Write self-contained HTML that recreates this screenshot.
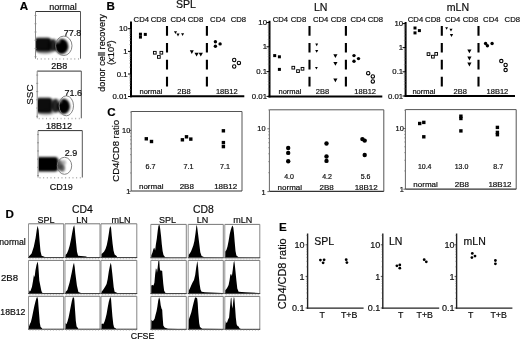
<!DOCTYPE html>
<html><head><meta charset="utf-8"><style>
html,body{margin:0;padding:0;background:#fff;}
body{width:520px;height:340px;overflow:hidden;}
svg{display:block;font-family:"Liberation Sans",sans-serif;will-change:transform;}
text{stroke:#000;stroke-width:0.18px;}
</style></head><body>
<svg width="520" height="340" viewBox="0 0 520 340">
<defs>
<filter id="b6" x="-50%" y="-50%" width="200%" height="200%"><feGaussianBlur stdDeviation="0.6"/></filter>
<filter id="b8" x="-50%" y="-50%" width="200%" height="200%"><feGaussianBlur stdDeviation="0.8"/></filter>
<filter id="b9" x="-50%" y="-50%" width="200%" height="200%"><feGaussianBlur stdDeviation="0.9"/></filter>
<filter id="b10" x="-50%" y="-50%" width="200%" height="200%"><feGaussianBlur stdDeviation="1"/></filter>
<filter id="b11" x="-50%" y="-50%" width="200%" height="200%"><feGaussianBlur stdDeviation="1.1"/></filter>
<filter id="b12" x="-50%" y="-50%" width="200%" height="200%"><feGaussianBlur stdDeviation="1.2"/></filter>
<filter id="b13" x="-50%" y="-50%" width="200%" height="200%"><feGaussianBlur stdDeviation="1.3"/></filter>
<filter id="b14" x="-50%" y="-50%" width="200%" height="200%"><feGaussianBlur stdDeviation="1.4"/></filter>
<filter id="b15" x="-50%" y="-50%" width="200%" height="200%"><feGaussianBlur stdDeviation="1.5"/></filter>
<filter id="b16" x="-50%" y="-50%" width="200%" height="200%"><feGaussianBlur stdDeviation="1.6"/></filter>
<filter id="b18" x="-50%" y="-50%" width="200%" height="200%"><feGaussianBlur stdDeviation="1.8"/></filter>
<filter id="b20" x="-50%" y="-50%" width="200%" height="200%"><feGaussianBlur stdDeviation="2"/></filter>
</defs>
<rect width="520" height="340" fill="#fff"/>
<text x="19.7" y="9.7" font-size="11.6" text-anchor="start" font-weight="bold" fill="#000">A</text>
<text x="106.6" y="9.8" font-size="11.6" text-anchor="start" font-weight="bold" fill="#000">B</text>
<text x="107.3" y="115.9" font-size="11.6" text-anchor="start" font-weight="bold" fill="#000">C</text>
<text x="5.6" y="218.2" font-size="11.6" text-anchor="start" font-weight="bold" fill="#000">D</text>
<text x="279" y="231.3" font-size="11.6" text-anchor="start" font-weight="bold" fill="#000">E</text>
<text x="63.1" y="9.7" font-size="9" text-anchor="middle" font-weight="normal" fill="#111">normal</text>
<clipPath id="ca1"><rect x="36" y="12" width="44" height="46.5"/></clipPath>
<clipPath id="ca2"><rect x="37.7" y="71.6" width="43.3" height="46.5"/></clipPath>
<clipPath id="ca3"><rect x="38.5" y="131" width="43.5" height="46.3"/></clipPath>
<g clip-path="url(#ca1)"><rect x="34.5" y="37.8" width="16.9" height="13.8" rx="3.5" fill="#000" opacity="0.95" filter="url(#b10)"/></g>
<g clip-path="url(#ca1)"><ellipse cx="45" cy="51.5" rx="8" ry="2.4" fill="#000" opacity="0.4" filter="url(#b12)"/></g>
<g clip-path="url(#ca1)"><ellipse cx="53.3" cy="45.3" rx="5" ry="6.2" fill="#000" opacity="0.85" filter="url(#b12)"/></g>
<g clip-path="url(#ca1)"><ellipse cx="61.6" cy="46.4" rx="6.8" ry="7.6" fill="#000" opacity="1" filter="url(#b9)"/></g>
<g clip-path="url(#ca1)"><ellipse cx="57.8" cy="40.2" rx="2.6" ry="3" fill="#fff" opacity="0.45" filter="url(#b11)"/></g>
<line x1="35.5" y1="11.5" x2="80.5" y2="11.5" stroke="#333" stroke-width="1"/>
<line x1="80.5" y1="11.5" x2="80.5" y2="58.7" stroke="#555" stroke-width="1"/>
<line x1="35.5" y1="11.5" x2="35.5" y2="58.7" stroke="#888" stroke-width="1"/>
<line x1="37.5" y1="58.2" x2="37.5" y2="59.7" stroke="#999" stroke-width="0.8"/>
<line x1="41.2273" y1="58.2" x2="41.2273" y2="59.7" stroke="#999" stroke-width="0.8"/>
<line x1="44.9545" y1="58.2" x2="44.9545" y2="59.7" stroke="#999" stroke-width="0.8"/>
<line x1="48.6818" y1="58.2" x2="48.6818" y2="59.7" stroke="#999" stroke-width="0.8"/>
<line x1="52.4091" y1="58.2" x2="52.4091" y2="59.7" stroke="#999" stroke-width="0.8"/>
<line x1="56.1364" y1="58.2" x2="56.1364" y2="59.7" stroke="#999" stroke-width="0.8"/>
<line x1="59.8636" y1="58.2" x2="59.8636" y2="59.7" stroke="#999" stroke-width="0.8"/>
<line x1="63.5909" y1="58.2" x2="63.5909" y2="59.7" stroke="#999" stroke-width="0.8"/>
<line x1="67.3182" y1="58.2" x2="67.3182" y2="59.7" stroke="#999" stroke-width="0.8"/>
<line x1="71.0455" y1="58.2" x2="71.0455" y2="59.7" stroke="#999" stroke-width="0.8"/>
<line x1="74.7727" y1="58.2" x2="74.7727" y2="59.7" stroke="#999" stroke-width="0.8"/>
<line x1="78.5" y1="58.2" x2="78.5" y2="59.7" stroke="#999" stroke-width="0.8"/>
<line x1="34.5" y1="15.5" x2="36.5" y2="15.5" stroke="#888" stroke-width="0.8"/>
<line x1="34.5" y1="23.74" x2="36.5" y2="23.74" stroke="#888" stroke-width="0.8"/>
<line x1="34.5" y1="31.98" x2="36.5" y2="31.98" stroke="#888" stroke-width="0.8"/>
<line x1="34.5" y1="40.22" x2="36.5" y2="40.22" stroke="#888" stroke-width="0.8"/>
<line x1="34.5" y1="48.46" x2="36.5" y2="48.46" stroke="#888" stroke-width="0.8"/>
<line x1="34.5" y1="56.7" x2="36.5" y2="56.7" stroke="#888" stroke-width="0.8"/>
<text x="81.2" y="36.3" font-size="9" text-anchor="end" font-weight="normal" fill="#111">77.8</text>
<ellipse cx="63.8" cy="45.8" rx="8.2" ry="9.7" fill="none" stroke="#777" stroke-width="0.9"/>
<text x="59.3" y="68.7" font-size="9" text-anchor="middle" font-weight="normal" fill="#111">2B8</text>
<g clip-path="url(#ca2)"><rect x="36" y="97.8" width="16.5" height="15.2" rx="3.5" fill="#000" opacity="0.95" filter="url(#b10)"/></g>
<g clip-path="url(#ca2)"><ellipse cx="46" cy="113" rx="8" ry="2.2" fill="#000" opacity="0.35" filter="url(#b12)"/></g>
<g clip-path="url(#ca2)"><ellipse cx="55.6" cy="105.8" rx="5" ry="7" fill="#000" opacity="0.85" filter="url(#b12)"/></g>
<g clip-path="url(#ca2)"><ellipse cx="63.6" cy="106.4" rx="6.4" ry="7.6" fill="#000" opacity="1" filter="url(#b9)"/></g>
<g clip-path="url(#ca2)"><ellipse cx="59.8" cy="100.5" rx="2.3" ry="2.8" fill="#fff" opacity="0.4" filter="url(#b11)"/></g>
<line x1="37.2" y1="71.1" x2="81.3" y2="71.1" stroke="#333" stroke-width="1"/>
<line x1="81.3" y1="71.1" x2="81.3" y2="118.3" stroke="#555" stroke-width="1"/>
<line x1="37.2" y1="71.1" x2="37.2" y2="118.3" stroke="#888" stroke-width="1"/>
<line x1="39.2" y1="117.8" x2="39.2" y2="119.3" stroke="#999" stroke-width="0.8"/>
<line x1="42.8455" y1="117.8" x2="42.8455" y2="119.3" stroke="#999" stroke-width="0.8"/>
<line x1="46.4909" y1="117.8" x2="46.4909" y2="119.3" stroke="#999" stroke-width="0.8"/>
<line x1="50.1364" y1="117.8" x2="50.1364" y2="119.3" stroke="#999" stroke-width="0.8"/>
<line x1="53.7818" y1="117.8" x2="53.7818" y2="119.3" stroke="#999" stroke-width="0.8"/>
<line x1="57.4273" y1="117.8" x2="57.4273" y2="119.3" stroke="#999" stroke-width="0.8"/>
<line x1="61.0727" y1="117.8" x2="61.0727" y2="119.3" stroke="#999" stroke-width="0.8"/>
<line x1="64.7182" y1="117.8" x2="64.7182" y2="119.3" stroke="#999" stroke-width="0.8"/>
<line x1="68.3636" y1="117.8" x2="68.3636" y2="119.3" stroke="#999" stroke-width="0.8"/>
<line x1="72.0091" y1="117.8" x2="72.0091" y2="119.3" stroke="#999" stroke-width="0.8"/>
<line x1="75.6545" y1="117.8" x2="75.6545" y2="119.3" stroke="#999" stroke-width="0.8"/>
<line x1="79.3" y1="117.8" x2="79.3" y2="119.3" stroke="#999" stroke-width="0.8"/>
<line x1="36.2" y1="75.1" x2="38.2" y2="75.1" stroke="#888" stroke-width="0.8"/>
<line x1="36.2" y1="83.34" x2="38.2" y2="83.34" stroke="#888" stroke-width="0.8"/>
<line x1="36.2" y1="91.58" x2="38.2" y2="91.58" stroke="#888" stroke-width="0.8"/>
<line x1="36.2" y1="99.82" x2="38.2" y2="99.82" stroke="#888" stroke-width="0.8"/>
<line x1="36.2" y1="108.06" x2="38.2" y2="108.06" stroke="#888" stroke-width="0.8"/>
<line x1="36.2" y1="116.3" x2="38.2" y2="116.3" stroke="#888" stroke-width="0.8"/>
<text x="82" y="96.1" font-size="9" text-anchor="end" font-weight="normal" fill="#111">71.6</text>
<ellipse cx="66.3" cy="105.8" rx="7.2" ry="10" fill="none" stroke="#777" stroke-width="0.9"/>
<text x="59.1" y="129.2" font-size="9" text-anchor="middle" font-weight="normal" fill="#111">18B12</text>
<g clip-path="url(#ca3)"><rect x="36" y="157" width="22" height="14.6" rx="3" fill="#000" opacity="1" filter="url(#b9)"/></g>
<g clip-path="url(#ca3)"><ellipse cx="59.5" cy="164.8" rx="2.5" ry="5.5" fill="#000" opacity="0.6" filter="url(#b12)"/></g>
<g clip-path="url(#ca3)"><ellipse cx="62.2" cy="168" rx="2.8" ry="3.8" fill="#000" opacity="0.6" filter="url(#b12)"/></g>
<g clip-path="url(#ca3)"><ellipse cx="63.5" cy="162.5" rx="2.5" ry="2.5" fill="#000" opacity="0.3" filter="url(#b12)"/></g>
<line x1="38" y1="130.6" x2="82.3" y2="130.6" stroke="#333" stroke-width="1"/>
<line x1="82.3" y1="130.6" x2="82.3" y2="177.5" stroke="#555" stroke-width="1"/>
<line x1="38" y1="130.6" x2="38" y2="177.5" stroke="#888" stroke-width="1"/>
<line x1="40" y1="177" x2="40" y2="178.5" stroke="#999" stroke-width="0.8"/>
<line x1="43.6636" y1="177" x2="43.6636" y2="178.5" stroke="#999" stroke-width="0.8"/>
<line x1="47.3273" y1="177" x2="47.3273" y2="178.5" stroke="#999" stroke-width="0.8"/>
<line x1="50.9909" y1="177" x2="50.9909" y2="178.5" stroke="#999" stroke-width="0.8"/>
<line x1="54.6545" y1="177" x2="54.6545" y2="178.5" stroke="#999" stroke-width="0.8"/>
<line x1="58.3182" y1="177" x2="58.3182" y2="178.5" stroke="#999" stroke-width="0.8"/>
<line x1="61.9818" y1="177" x2="61.9818" y2="178.5" stroke="#999" stroke-width="0.8"/>
<line x1="65.6455" y1="177" x2="65.6455" y2="178.5" stroke="#999" stroke-width="0.8"/>
<line x1="69.3091" y1="177" x2="69.3091" y2="178.5" stroke="#999" stroke-width="0.8"/>
<line x1="72.9727" y1="177" x2="72.9727" y2="178.5" stroke="#999" stroke-width="0.8"/>
<line x1="76.6364" y1="177" x2="76.6364" y2="178.5" stroke="#999" stroke-width="0.8"/>
<line x1="80.3" y1="177" x2="80.3" y2="178.5" stroke="#999" stroke-width="0.8"/>
<line x1="37" y1="134.6" x2="39" y2="134.6" stroke="#888" stroke-width="0.8"/>
<line x1="37" y1="142.78" x2="39" y2="142.78" stroke="#888" stroke-width="0.8"/>
<line x1="37" y1="150.96" x2="39" y2="150.96" stroke="#888" stroke-width="0.8"/>
<line x1="37" y1="159.14" x2="39" y2="159.14" stroke="#888" stroke-width="0.8"/>
<line x1="37" y1="167.32" x2="39" y2="167.32" stroke="#888" stroke-width="0.8"/>
<line x1="37" y1="175.5" x2="39" y2="175.5" stroke="#888" stroke-width="0.8"/>
<text x="77.3" y="156.2" font-size="9" text-anchor="end" font-weight="normal" fill="#111">2.9</text>
<ellipse cx="64.5" cy="165.8" rx="7.2" ry="8.5" fill="none" stroke="#777" stroke-width="0.9"/>
<text x="61.3" y="190.2" font-size="9" text-anchor="middle" font-weight="normal" fill="#111">CD19</text>
<text x="33.4" y="94.6" font-size="9.8" text-anchor="middle" font-weight="normal" fill="#111" transform="rotate(-90 33.4 94.6)">SSC</text>
<text x="104.8" y="53" font-size="9.2" text-anchor="middle" font-weight="normal" fill="#111" transform="rotate(-90 104.8 53)">donor cell recovery</text>
<text x="114.4" y="52.7" font-size="9.4" text-anchor="middle" fill="#111" transform="rotate(-90 114.4 52.7)">(x10<tspan font-size="5.8" dy="-3.4">6</tspan><tspan dy="3.4">)</tspan></text>
<text x="186" y="7.7" font-size="10.6" text-anchor="middle" font-weight="normal" fill="#111">SPL</text>
<line x1="131" y1="21.5" x2="131" y2="97.3" stroke="#000" stroke-width="2"/>
<line x1="130" y1="96.3" x2="244.3" y2="96.3" stroke="#000" stroke-width="2"/>
<line x1="128" y1="28.7" x2="131" y2="28.7" stroke="#000" stroke-width="1"/>
<text x="127.6" y="31.2" font-size="7.8" text-anchor="end" font-weight="normal" fill="#111">10</text>
<line x1="128" y1="51.4" x2="131" y2="51.4" stroke="#000" stroke-width="1"/>
<text x="127.6" y="53.9" font-size="7.8" text-anchor="end" font-weight="normal" fill="#111">1</text>
<line x1="128" y1="74" x2="131" y2="74" stroke="#000" stroke-width="1"/>
<text x="127.6" y="76.5" font-size="7.8" text-anchor="end" font-weight="normal" fill="#111">0.1</text>
<line x1="128" y1="96.5" x2="131" y2="96.5" stroke="#000" stroke-width="1"/>
<text x="127.6" y="99" font-size="7.8" text-anchor="end" font-weight="normal" fill="#111">0.01</text>
<line x1="129.2" y1="44.5666" x2="131" y2="44.5666" stroke="#777" stroke-width="0.5"/>
<line x1="129.2" y1="40.5693" x2="131" y2="40.5693" stroke="#777" stroke-width="0.5"/>
<line x1="129.2" y1="37.7332" x2="131" y2="37.7332" stroke="#777" stroke-width="0.5"/>
<line x1="129.2" y1="35.5334" x2="131" y2="35.5334" stroke="#777" stroke-width="0.5"/>
<line x1="129.2" y1="33.736" x2="131" y2="33.736" stroke="#777" stroke-width="0.5"/>
<line x1="129.2" y1="32.2163" x2="131" y2="32.2163" stroke="#777" stroke-width="0.5"/>
<line x1="129.2" y1="30.8999" x2="131" y2="30.8999" stroke="#777" stroke-width="0.5"/>
<line x1="129.2" y1="29.7387" x2="131" y2="29.7387" stroke="#777" stroke-width="0.5"/>
<line x1="129.2" y1="67.1967" x2="131" y2="67.1967" stroke="#777" stroke-width="0.5"/>
<line x1="129.2" y1="63.2171" x2="131" y2="63.2171" stroke="#777" stroke-width="0.5"/>
<line x1="129.2" y1="60.3934" x2="131" y2="60.3934" stroke="#777" stroke-width="0.5"/>
<line x1="129.2" y1="58.2033" x2="131" y2="58.2033" stroke="#777" stroke-width="0.5"/>
<line x1="129.2" y1="56.4138" x2="131" y2="56.4138" stroke="#777" stroke-width="0.5"/>
<line x1="129.2" y1="54.9008" x2="131" y2="54.9008" stroke="#777" stroke-width="0.5"/>
<line x1="129.2" y1="53.5902" x2="131" y2="53.5902" stroke="#777" stroke-width="0.5"/>
<line x1="129.2" y1="52.4341" x2="131" y2="52.4341" stroke="#777" stroke-width="0.5"/>
<line x1="129.2" y1="89.7268" x2="131" y2="89.7268" stroke="#777" stroke-width="0.5"/>
<line x1="129.2" y1="85.7648" x2="131" y2="85.7648" stroke="#777" stroke-width="0.5"/>
<line x1="129.2" y1="82.9537" x2="131" y2="82.9537" stroke="#777" stroke-width="0.5"/>
<line x1="129.2" y1="80.7732" x2="131" y2="80.7732" stroke="#777" stroke-width="0.5"/>
<line x1="129.2" y1="78.9916" x2="131" y2="78.9916" stroke="#777" stroke-width="0.5"/>
<line x1="129.2" y1="77.4853" x2="131" y2="77.4853" stroke="#777" stroke-width="0.5"/>
<line x1="129.2" y1="76.1805" x2="131" y2="76.1805" stroke="#777" stroke-width="0.5"/>
<line x1="129.2" y1="75.0295" x2="131" y2="75.0295" stroke="#777" stroke-width="0.5"/>
<text x="141.3" y="21.6" font-size="7.7" text-anchor="middle" font-weight="normal" fill="#111">CD4</text>
<text x="158.5" y="21.6" font-size="7.7" text-anchor="middle" font-weight="normal" fill="#111">CD8</text>
<text x="178.1" y="21.6" font-size="7.7" text-anchor="middle" font-weight="normal" fill="#111">CD4</text>
<text x="195.5" y="21.6" font-size="7.7" text-anchor="middle" font-weight="normal" fill="#111">CD8</text>
<text x="217.8" y="21.6" font-size="7.7" text-anchor="middle" font-weight="normal" fill="#111">CD4</text>
<text x="238.4" y="21.6" font-size="7.7" text-anchor="middle" font-weight="normal" fill="#111">CD8</text>
<line x1="167" y1="26" x2="167" y2="86.6" stroke="#000" stroke-width="2.1" stroke-dasharray="9.7 7.2"/>
<line x1="206.9" y1="26" x2="206.9" y2="86.6" stroke="#000" stroke-width="2.1" stroke-dasharray="9.7 7.2"/>
<text x="151" y="94" font-size="7.5" text-anchor="middle" font-weight="normal" fill="#111">normal</text>
<text x="184" y="94" font-size="7.5" text-anchor="middle" font-weight="normal" fill="#111">2B8</text>
<text x="226.8" y="94" font-size="7.5" text-anchor="middle" font-weight="normal" fill="#111">18B12</text>
<rect x="138.95" y="32.7" width="3" height="3" fill="#000" stroke="none" stroke-width="1"/>
<rect x="138.95" y="35.6" width="3" height="3" fill="#000" stroke="none" stroke-width="1"/>
<rect x="143.8" y="32.9" width="3" height="3" fill="#000" stroke="none" stroke-width="1"/>
<rect x="153.45" y="51.4" width="2.7" height="2.7" fill="none" stroke="#000" stroke-width="0.95"/>
<rect x="160" y="51.4" width="2.7" height="2.7" fill="none" stroke="#000" stroke-width="0.95"/>
<rect x="157.5" y="55.6" width="2.7" height="2.7" fill="none" stroke="#000" stroke-width="0.95"/>
<polygon points="173.96,31.214 177.04,31.214 175.5,33.986" fill="#000"/>
<polygon points="176.46,33.614 179.54,33.614 178,36.386" fill="#000"/>
<polygon points="181.06,33.214 184.14,33.214 182.6,35.986" fill="#000"/>
<polygon points="189.82,50.318 193.78,50.318 191.8,53.882" fill="#000"/>
<polygon points="194.51,52.819 198.69,52.819 196.6,56.581" fill="#000"/>
<polygon points="198.71,52.719 202.89,52.719 200.8,56.481" fill="#000"/>
<circle cx="215.4" cy="41.8" r="1.7" fill="#000" stroke="none" stroke-width="1"/>
<circle cx="215.4" cy="46.2" r="1.7" fill="#000" stroke="none" stroke-width="1"/>
<circle cx="220.1" cy="43.9" r="1.7" fill="#000" stroke="none" stroke-width="1"/>
<circle cx="234.2" cy="60" r="1.7" fill="none" stroke="#000" stroke-width="1.1"/>
<circle cx="238.9" cy="62.9" r="1.7" fill="none" stroke="#000" stroke-width="1.1"/>
<circle cx="234.2" cy="66.5" r="1.7" fill="none" stroke="#000" stroke-width="1.1"/>
<text x="320.7" y="10.6" font-size="10.6" text-anchor="middle" font-weight="normal" fill="#111">LN</text>
<line x1="269.5" y1="20.8" x2="269.5" y2="97.4" stroke="#000" stroke-width="2"/>
<line x1="268.5" y1="96.4" x2="382.3" y2="96.4" stroke="#000" stroke-width="2"/>
<line x1="266.5" y1="22.5" x2="269.5" y2="22.5" stroke="#000" stroke-width="1"/>
<text x="267" y="25" font-size="7.8" text-anchor="end" font-weight="normal" fill="#111">10</text>
<line x1="266.5" y1="46.8" x2="269.5" y2="46.8" stroke="#000" stroke-width="1"/>
<text x="267" y="49.3" font-size="7.8" text-anchor="end" font-weight="normal" fill="#111">1</text>
<line x1="266.5" y1="71.6" x2="269.5" y2="71.6" stroke="#000" stroke-width="1"/>
<text x="267" y="74.1" font-size="7.8" text-anchor="end" font-weight="normal" fill="#111">0.1</text>
<line x1="266.5" y1="96.4" x2="269.5" y2="96.4" stroke="#000" stroke-width="1"/>
<text x="267" y="98.9" font-size="7.8" text-anchor="end" font-weight="normal" fill="#111">0.01</text>
<line x1="267.7" y1="39.485" x2="269.5" y2="39.485" stroke="#777" stroke-width="0.5"/>
<line x1="267.7" y1="35.206" x2="269.5" y2="35.206" stroke="#777" stroke-width="0.5"/>
<line x1="267.7" y1="32.1699" x2="269.5" y2="32.1699" stroke="#777" stroke-width="0.5"/>
<line x1="267.7" y1="29.815" x2="269.5" y2="29.815" stroke="#777" stroke-width="0.5"/>
<line x1="267.7" y1="27.8909" x2="269.5" y2="27.8909" stroke="#777" stroke-width="0.5"/>
<line x1="267.7" y1="26.2641" x2="269.5" y2="26.2641" stroke="#777" stroke-width="0.5"/>
<line x1="267.7" y1="24.8549" x2="269.5" y2="24.8549" stroke="#777" stroke-width="0.5"/>
<line x1="267.7" y1="23.6119" x2="269.5" y2="23.6119" stroke="#777" stroke-width="0.5"/>
<line x1="267.7" y1="64.1345" x2="269.5" y2="64.1345" stroke="#777" stroke-width="0.5"/>
<line x1="267.7" y1="59.7674" x2="269.5" y2="59.7674" stroke="#777" stroke-width="0.5"/>
<line x1="267.7" y1="56.6689" x2="269.5" y2="56.6689" stroke="#777" stroke-width="0.5"/>
<line x1="267.7" y1="54.2655" x2="269.5" y2="54.2655" stroke="#777" stroke-width="0.5"/>
<line x1="267.7" y1="52.3018" x2="269.5" y2="52.3018" stroke="#777" stroke-width="0.5"/>
<line x1="267.7" y1="50.6416" x2="269.5" y2="50.6416" stroke="#777" stroke-width="0.5"/>
<line x1="267.7" y1="49.2034" x2="269.5" y2="49.2034" stroke="#777" stroke-width="0.5"/>
<line x1="267.7" y1="47.9348" x2="269.5" y2="47.9348" stroke="#777" stroke-width="0.5"/>
<line x1="267.7" y1="88.9345" x2="269.5" y2="88.9345" stroke="#777" stroke-width="0.5"/>
<line x1="267.7" y1="84.5674" x2="269.5" y2="84.5674" stroke="#777" stroke-width="0.5"/>
<line x1="267.7" y1="81.4689" x2="269.5" y2="81.4689" stroke="#777" stroke-width="0.5"/>
<line x1="267.7" y1="79.0655" x2="269.5" y2="79.0655" stroke="#777" stroke-width="0.5"/>
<line x1="267.7" y1="77.1018" x2="269.5" y2="77.1018" stroke="#777" stroke-width="0.5"/>
<line x1="267.7" y1="75.4416" x2="269.5" y2="75.4416" stroke="#777" stroke-width="0.5"/>
<line x1="267.7" y1="74.0034" x2="269.5" y2="74.0034" stroke="#777" stroke-width="0.5"/>
<line x1="267.7" y1="72.7348" x2="269.5" y2="72.7348" stroke="#777" stroke-width="0.5"/>
<text x="280.4" y="21.5" font-size="7.7" text-anchor="middle" font-weight="normal" fill="#111">CD4</text>
<text x="298.5" y="21.5" font-size="7.7" text-anchor="middle" font-weight="normal" fill="#111">CD8</text>
<text x="320.6" y="21.5" font-size="7.7" text-anchor="middle" font-weight="normal" fill="#111">CD4</text>
<text x="338.5" y="21.5" font-size="7.7" text-anchor="middle" font-weight="normal" fill="#111">CD8</text>
<text x="358.2" y="21.5" font-size="7.7" text-anchor="middle" font-weight="normal" fill="#111">CD4</text>
<text x="375.4" y="21.5" font-size="7.7" text-anchor="middle" font-weight="normal" fill="#111">CD8</text>
<line x1="309.5" y1="26" x2="309.5" y2="86.6" stroke="#000" stroke-width="2.1" stroke-dasharray="9.7 7.2"/>
<line x1="345.9" y1="26" x2="345.9" y2="86.6" stroke="#000" stroke-width="2.1" stroke-dasharray="9.7 7.2"/>
<text x="290" y="93.9" font-size="7.5" text-anchor="middle" font-weight="normal" fill="#111">normal</text>
<text x="322.4" y="93.9" font-size="7.5" text-anchor="middle" font-weight="normal" fill="#111">2B8</text>
<text x="365.2" y="93.9" font-size="7.5" text-anchor="middle" font-weight="normal" fill="#111">18B12</text>
<rect x="273.2" y="54.1" width="3" height="3" fill="#000" stroke="none" stroke-width="1"/>
<rect x="277.9" y="55.3" width="3" height="3" fill="#000" stroke="none" stroke-width="1"/>
<rect x="277.9" y="67.9" width="3" height="3" fill="#000" stroke="none" stroke-width="1"/>
<rect x="291.95" y="66.35" width="2.7" height="2.7" fill="none" stroke="#000" stroke-width="0.95"/>
<rect x="296.65" y="69.75" width="2.7" height="2.7" fill="none" stroke="#000" stroke-width="0.95"/>
<rect x="301.15" y="67.45" width="2.7" height="2.7" fill="none" stroke="#000" stroke-width="0.95"/>
<polygon points="315.27,43.613 318.13,43.613 316.7,46.187" fill="#000"/>
<polygon points="315.16,49.914 318.24,49.914 316.7,52.686" fill="#000"/>
<polygon points="314.97,66.913 317.83,66.913 316.4,69.487" fill="#000"/>
<polygon points="333.31,54.219 337.49,54.219 335.4,57.981" fill="#000"/>
<polygon points="333.31,61.919 337.49,61.919 335.4,65.681" fill="#000"/>
<polygon points="333.31,78.519 337.49,78.519 335.4,82.281" fill="#000"/>
<circle cx="354" cy="55.6" r="1.7" fill="#000" stroke="none" stroke-width="1"/>
<circle cx="358.5" cy="58.6" r="1.7" fill="#000" stroke="none" stroke-width="1"/>
<circle cx="354" cy="61.3" r="1.7" fill="#000" stroke="none" stroke-width="1"/>
<circle cx="368.2" cy="73.2" r="1.7" fill="none" stroke="#000" stroke-width="1.1"/>
<circle cx="372.8" cy="76.4" r="1.7" fill="none" stroke="#000" stroke-width="1.1"/>
<circle cx="372.8" cy="81.4" r="1.7" fill="none" stroke="#000" stroke-width="1.1"/>
<text x="457.9" y="10.9" font-size="10.6" text-anchor="middle" font-weight="normal" fill="#111">mLN</text>
<line x1="405.6" y1="22" x2="405.6" y2="97" stroke="#000" stroke-width="2"/>
<line x1="404.6" y1="96" x2="515" y2="96" stroke="#000" stroke-width="2"/>
<line x1="402.6" y1="23.6" x2="405.6" y2="23.6" stroke="#000" stroke-width="1"/>
<text x="403.2" y="26.1" font-size="7.8" text-anchor="end" font-weight="normal" fill="#111">10</text>
<line x1="402.6" y1="47.6" x2="405.6" y2="47.6" stroke="#000" stroke-width="1"/>
<text x="403.2" y="50.1" font-size="7.8" text-anchor="end" font-weight="normal" fill="#111">1</text>
<line x1="402.6" y1="71.8" x2="405.6" y2="71.8" stroke="#000" stroke-width="1"/>
<text x="403.2" y="74.3" font-size="7.8" text-anchor="end" font-weight="normal" fill="#111">0.1</text>
<line x1="402.6" y1="96" x2="405.6" y2="96" stroke="#000" stroke-width="1"/>
<text x="403.2" y="98.5" font-size="7.8" text-anchor="end" font-weight="normal" fill="#111">0.01</text>
<line x1="403.8" y1="40.3753" x2="405.6" y2="40.3753" stroke="#777" stroke-width="0.5"/>
<line x1="403.8" y1="36.1491" x2="405.6" y2="36.1491" stroke="#777" stroke-width="0.5"/>
<line x1="403.8" y1="33.1506" x2="405.6" y2="33.1506" stroke="#777" stroke-width="0.5"/>
<line x1="403.8" y1="30.8247" x2="405.6" y2="30.8247" stroke="#777" stroke-width="0.5"/>
<line x1="403.8" y1="28.9244" x2="405.6" y2="28.9244" stroke="#777" stroke-width="0.5"/>
<line x1="403.8" y1="27.3176" x2="405.6" y2="27.3176" stroke="#777" stroke-width="0.5"/>
<line x1="403.8" y1="25.9258" x2="405.6" y2="25.9258" stroke="#777" stroke-width="0.5"/>
<line x1="403.8" y1="24.6982" x2="405.6" y2="24.6982" stroke="#777" stroke-width="0.5"/>
<line x1="403.8" y1="64.5151" x2="405.6" y2="64.5151" stroke="#777" stroke-width="0.5"/>
<line x1="403.8" y1="60.2537" x2="405.6" y2="60.2537" stroke="#777" stroke-width="0.5"/>
<line x1="403.8" y1="57.2301" x2="405.6" y2="57.2301" stroke="#777" stroke-width="0.5"/>
<line x1="403.8" y1="54.8849" x2="405.6" y2="54.8849" stroke="#777" stroke-width="0.5"/>
<line x1="403.8" y1="52.9687" x2="405.6" y2="52.9687" stroke="#777" stroke-width="0.5"/>
<line x1="403.8" y1="51.3486" x2="405.6" y2="51.3486" stroke="#777" stroke-width="0.5"/>
<line x1="403.8" y1="49.9452" x2="405.6" y2="49.9452" stroke="#777" stroke-width="0.5"/>
<line x1="403.8" y1="48.7073" x2="405.6" y2="48.7073" stroke="#777" stroke-width="0.5"/>
<line x1="403.8" y1="88.7151" x2="405.6" y2="88.7151" stroke="#777" stroke-width="0.5"/>
<line x1="403.8" y1="84.4537" x2="405.6" y2="84.4537" stroke="#777" stroke-width="0.5"/>
<line x1="403.8" y1="81.4301" x2="405.6" y2="81.4301" stroke="#777" stroke-width="0.5"/>
<line x1="403.8" y1="79.0849" x2="405.6" y2="79.0849" stroke="#777" stroke-width="0.5"/>
<line x1="403.8" y1="77.1687" x2="405.6" y2="77.1687" stroke="#777" stroke-width="0.5"/>
<line x1="403.8" y1="75.5486" x2="405.6" y2="75.5486" stroke="#777" stroke-width="0.5"/>
<line x1="403.8" y1="74.1452" x2="405.6" y2="74.1452" stroke="#777" stroke-width="0.5"/>
<line x1="403.8" y1="72.9073" x2="405.6" y2="72.9073" stroke="#777" stroke-width="0.5"/>
<text x="415.5" y="21.5" font-size="7.7" text-anchor="middle" font-weight="normal" fill="#111">CD4</text>
<text x="432.8" y="21.5" font-size="7.7" text-anchor="middle" font-weight="normal" fill="#111">CD8</text>
<text x="452.7" y="21.5" font-size="7.7" text-anchor="middle" font-weight="normal" fill="#111">CD4</text>
<text x="470.5" y="21.5" font-size="7.7" text-anchor="middle" font-weight="normal" fill="#111">CD8</text>
<text x="490.8" y="21.5" font-size="7.7" text-anchor="middle" font-weight="normal" fill="#111">CD4</text>
<text x="512.3" y="21.5" font-size="7.7" text-anchor="middle" font-weight="normal" fill="#111">CD8</text>
<line x1="441.8" y1="26" x2="441.8" y2="86.6" stroke="#000" stroke-width="2.1" stroke-dasharray="9.7 7.2"/>
<line x1="478.5" y1="26" x2="478.5" y2="86.6" stroke="#000" stroke-width="2.1" stroke-dasharray="9.7 7.2"/>
<text x="423.9" y="93.6" font-size="7.5" text-anchor="middle" font-weight="normal" fill="#111">normal</text>
<text x="460.3" y="93.6" font-size="7.5" text-anchor="middle" font-weight="normal" fill="#111">2B8</text>
<text x="497.4" y="93.6" font-size="7.5" text-anchor="middle" font-weight="normal" fill="#111">18B12</text>
<rect x="413.5" y="26.5" width="3" height="3" fill="#000" stroke="none" stroke-width="1"/>
<rect x="417.9" y="29.1" width="3" height="3" fill="#000" stroke="none" stroke-width="1"/>
<rect x="413.5" y="31.4" width="3" height="3" fill="#000" stroke="none" stroke-width="1"/>
<rect x="427.15" y="52.75" width="2.7" height="2.7" fill="none" stroke="#000" stroke-width="0.95"/>
<rect x="431.55" y="55.35" width="2.7" height="2.7" fill="none" stroke="#000" stroke-width="0.95"/>
<rect x="434.85" y="52.55" width="2.7" height="2.7" fill="none" stroke="#000" stroke-width="0.95"/>
<polygon points="445.17,27.213 448.03,27.213 446.6,29.787" fill="#000"/>
<polygon points="449.46,28.814 452.54,28.814 451,31.586" fill="#000"/>
<polygon points="449.85,33.915 453.15,33.915 451.5,36.885" fill="#000"/>
<polygon points="467.31,49.419 471.49,49.419 469.4,53.181" fill="#000"/>
<polygon points="467.31,56.619 471.49,56.619 469.4,60.381" fill="#000"/>
<polygon points="467.31,62.619 471.49,62.619 469.4,66.381" fill="#000"/>
<circle cx="485.6" cy="43.5" r="1.7" fill="#000" stroke="none" stroke-width="1"/>
<circle cx="487.4" cy="45.8" r="1.7" fill="#000" stroke="none" stroke-width="1"/>
<circle cx="492.1" cy="43.5" r="1.7" fill="#000" stroke="none" stroke-width="1"/>
<circle cx="501.3" cy="61.1" r="1.7" fill="none" stroke="#000" stroke-width="1.1"/>
<circle cx="505.6" cy="65" r="1.7" fill="none" stroke="#000" stroke-width="1.1"/>
<circle cx="505.6" cy="70.1" r="1.7" fill="none" stroke="#000" stroke-width="1.1"/>
<text x="118.9" y="150.8" font-size="9.5" text-anchor="middle" font-weight="normal" fill="#111" transform="rotate(-90 118.9 150.8)">CD4/CD8 ratio</text>
<line x1="131.2" y1="111.5" x2="242" y2="111.5" stroke="#555" stroke-width="1"/>
<line x1="242" y1="111.5" x2="242" y2="191" stroke="#555" stroke-width="1"/>
<line x1="131.2" y1="111.5" x2="131.2" y2="191" stroke="#666" stroke-width="1"/>
<line x1="131.2" y1="191" x2="242" y2="191" stroke="#333" stroke-width="1.2"/>
<line x1="129.2" y1="130.4" x2="131.2" y2="130.4" stroke="#444" stroke-width="0.8"/>
<line x1="129.2" y1="191.3" x2="131.2" y2="191.3" stroke="#444" stroke-width="0.8"/>
<line x1="130" y1="172.967" x2="131.2" y2="172.967" stroke="#666" stroke-width="0.6"/>
<line x1="130" y1="162.243" x2="131.2" y2="162.243" stroke="#666" stroke-width="0.6"/>
<line x1="130" y1="154.635" x2="131.2" y2="154.635" stroke="#666" stroke-width="0.6"/>
<line x1="130" y1="148.733" x2="131.2" y2="148.733" stroke="#666" stroke-width="0.6"/>
<line x1="130" y1="143.911" x2="131.2" y2="143.911" stroke="#666" stroke-width="0.6"/>
<line x1="130" y1="139.834" x2="131.2" y2="139.834" stroke="#666" stroke-width="0.6"/>
<line x1="130" y1="136.302" x2="131.2" y2="136.302" stroke="#666" stroke-width="0.6"/>
<line x1="130" y1="133.187" x2="131.2" y2="133.187" stroke="#666" stroke-width="0.6"/>
<line x1="130" y1="112.067" x2="131.2" y2="112.067" stroke="#666" stroke-width="0.6"/>
<text x="130.3" y="133" font-size="7.4" text-anchor="end" font-weight="normal" fill="#111">10</text>
<text x="130.3" y="194.3" font-size="7.4" text-anchor="end" font-weight="normal" fill="#111">1</text>
<text x="151.2" y="188.8" font-size="8" text-anchor="middle" font-weight="normal" fill="#111">normal</text>
<text x="186.8" y="188.8" font-size="8" text-anchor="middle" font-weight="normal" fill="#111">2B8</text>
<text x="225.7" y="188.8" font-size="8" text-anchor="middle" font-weight="normal" fill="#111">18B12</text>
<text x="150.4" y="168.8" font-size="7.2" text-anchor="middle" font-weight="normal" fill="#111">6.7</text>
<text x="188.6" y="168.8" font-size="7.2" text-anchor="middle" font-weight="normal" fill="#111">7.1</text>
<text x="225.1" y="168.8" font-size="7.2" text-anchor="middle" font-weight="normal" fill="#111">7.1</text>
<rect x="144.6" y="137.1" width="3.4" height="3.4" fill="#000" stroke="none" stroke-width="1"/>
<rect x="149.8" y="139.8" width="3.4" height="3.4" fill="#000" stroke="none" stroke-width="1"/>
<rect x="180.7" y="138.1" width="3.4" height="3.4" fill="#000" stroke="none" stroke-width="1"/>
<rect x="184.8" y="135.1" width="3.4" height="3.4" fill="#000" stroke="none" stroke-width="1"/>
<rect x="189.1" y="137.4" width="3.4" height="3.4" fill="#000" stroke="none" stroke-width="1"/>
<rect x="221.7" y="129.1" width="3.4" height="3.4" fill="#000" stroke="none" stroke-width="1"/>
<rect x="221.7" y="140.9" width="3.4" height="3.4" fill="#000" stroke="none" stroke-width="1"/>
<rect x="221.7" y="144.9" width="3.4" height="3.4" fill="#000" stroke="none" stroke-width="1"/>
<line x1="269.4" y1="109.8" x2="383.8" y2="109.8" stroke="#555" stroke-width="1"/>
<line x1="383.8" y1="109.8" x2="383.8" y2="191.4" stroke="#555" stroke-width="1"/>
<line x1="269.4" y1="109.8" x2="269.4" y2="191.4" stroke="#666" stroke-width="1"/>
<line x1="269.4" y1="191.4" x2="383.8" y2="191.4" stroke="#333" stroke-width="1.2"/>
<line x1="267.4" y1="128.8" x2="269.4" y2="128.8" stroke="#444" stroke-width="0.8"/>
<line x1="267.4" y1="191.6" x2="269.4" y2="191.6" stroke="#444" stroke-width="0.8"/>
<line x1="268.2" y1="172.695" x2="269.4" y2="172.695" stroke="#666" stroke-width="0.6"/>
<line x1="268.2" y1="161.637" x2="269.4" y2="161.637" stroke="#666" stroke-width="0.6"/>
<line x1="268.2" y1="153.791" x2="269.4" y2="153.791" stroke="#666" stroke-width="0.6"/>
<line x1="268.2" y1="147.705" x2="269.4" y2="147.705" stroke="#666" stroke-width="0.6"/>
<line x1="268.2" y1="142.732" x2="269.4" y2="142.732" stroke="#666" stroke-width="0.6"/>
<line x1="268.2" y1="138.528" x2="269.4" y2="138.528" stroke="#666" stroke-width="0.6"/>
<line x1="268.2" y1="134.886" x2="269.4" y2="134.886" stroke="#666" stroke-width="0.6"/>
<line x1="268.2" y1="131.674" x2="269.4" y2="131.674" stroke="#666" stroke-width="0.6"/>
<line x1="268.2" y1="109.895" x2="269.4" y2="109.895" stroke="#666" stroke-width="0.6"/>
<text x="265.6" y="131.4" font-size="7.4" text-anchor="end" font-weight="normal" fill="#111">10</text>
<text x="265.6" y="194.6" font-size="7.4" text-anchor="end" font-weight="normal" fill="#111">1</text>
<text x="289.8" y="189.8" font-size="8" text-anchor="middle" font-weight="normal" fill="#111">normal</text>
<text x="326.6" y="189.8" font-size="8" text-anchor="middle" font-weight="normal" fill="#111">2B8</text>
<text x="366.2" y="189.8" font-size="8" text-anchor="middle" font-weight="normal" fill="#111">18B12</text>
<text x="289" y="178.8" font-size="7" text-anchor="middle" font-weight="normal" fill="#111">4.0</text>
<text x="327" y="178.8" font-size="7" text-anchor="middle" font-weight="normal" fill="#111">4.2</text>
<text x="365.5" y="178.8" font-size="7" text-anchor="middle" font-weight="normal" fill="#111">5.6</text>
<circle cx="288.2" cy="148" r="2.2" fill="#000" stroke="none" stroke-width="1"/>
<circle cx="288.2" cy="152.9" r="2.2" fill="#000" stroke="none" stroke-width="1"/>
<circle cx="288.2" cy="161.2" r="2.2" fill="#000" stroke="none" stroke-width="1"/>
<circle cx="326.5" cy="143.5" r="2.2" fill="#000" stroke="none" stroke-width="1"/>
<circle cx="326.5" cy="156.5" r="2.2" fill="#000" stroke="none" stroke-width="1"/>
<circle cx="326.5" cy="160.9" r="2.2" fill="#000" stroke="none" stroke-width="1"/>
<circle cx="362.4" cy="139.1" r="2.2" fill="#000" stroke="none" stroke-width="1"/>
<circle cx="364.7" cy="140.6" r="2.2" fill="#000" stroke="none" stroke-width="1"/>
<circle cx="364.7" cy="155" r="2.2" fill="#000" stroke="none" stroke-width="1"/>
<line x1="405.4" y1="109.6" x2="516.2" y2="109.6" stroke="#555" stroke-width="1"/>
<line x1="516.2" y1="109.6" x2="516.2" y2="189.2" stroke="#555" stroke-width="1"/>
<line x1="405.4" y1="109.6" x2="405.4" y2="189.2" stroke="#666" stroke-width="1"/>
<line x1="405.4" y1="189.2" x2="516.2" y2="189.2" stroke="#333" stroke-width="1.2"/>
<line x1="403.4" y1="128.5" x2="405.4" y2="128.5" stroke="#444" stroke-width="0.8"/>
<line x1="403.4" y1="189.2" x2="405.4" y2="189.2" stroke="#444" stroke-width="0.8"/>
<line x1="404.2" y1="170.927" x2="405.4" y2="170.927" stroke="#666" stroke-width="0.6"/>
<line x1="404.2" y1="160.239" x2="405.4" y2="160.239" stroke="#666" stroke-width="0.6"/>
<line x1="404.2" y1="152.655" x2="405.4" y2="152.655" stroke="#666" stroke-width="0.6"/>
<line x1="404.2" y1="146.773" x2="405.4" y2="146.773" stroke="#666" stroke-width="0.6"/>
<line x1="404.2" y1="141.966" x2="405.4" y2="141.966" stroke="#666" stroke-width="0.6"/>
<line x1="404.2" y1="137.903" x2="405.4" y2="137.903" stroke="#666" stroke-width="0.6"/>
<line x1="404.2" y1="134.382" x2="405.4" y2="134.382" stroke="#666" stroke-width="0.6"/>
<line x1="404.2" y1="131.277" x2="405.4" y2="131.277" stroke="#666" stroke-width="0.6"/>
<line x1="404.2" y1="110.227" x2="405.4" y2="110.227" stroke="#666" stroke-width="0.6"/>
<text x="403.8" y="131.1" font-size="7.4" text-anchor="end" font-weight="normal" fill="#111">10</text>
<text x="403.8" y="192.2" font-size="7.4" text-anchor="end" font-weight="normal" fill="#111">1</text>
<text x="425.6" y="187.1" font-size="8" text-anchor="middle" font-weight="normal" fill="#111">normal</text>
<text x="461.9" y="187.1" font-size="8" text-anchor="middle" font-weight="normal" fill="#111">2B8</text>
<text x="500" y="187.1" font-size="8" text-anchor="middle" font-weight="normal" fill="#111">18B12</text>
<text x="424.7" y="168.8" font-size="7" text-anchor="middle" font-weight="normal" fill="#111">10.4</text>
<text x="461.5" y="168.8" font-size="7" text-anchor="middle" font-weight="normal" fill="#111">13.0</text>
<text x="498.2" y="168.8" font-size="7" text-anchor="middle" font-weight="normal" fill="#111">8.7</text>
<rect x="418" y="121.8" width="3.4" height="3.4" fill="#000" stroke="none" stroke-width="1"/>
<rect x="422.1" y="120.7" width="3.4" height="3.4" fill="#000" stroke="none" stroke-width="1"/>
<rect x="422.1" y="135.1" width="3.4" height="3.4" fill="#000" stroke="none" stroke-width="1"/>
<rect x="459.2" y="114.5" width="3.4" height="3.4" fill="#000" stroke="none" stroke-width="1"/>
<rect x="459.2" y="116.8" width="3.4" height="3.4" fill="#000" stroke="none" stroke-width="1"/>
<rect x="459.2" y="129.2" width="3.4" height="3.4" fill="#000" stroke="none" stroke-width="1"/>
<rect x="495.7" y="125.7" width="3.4" height="3.4" fill="#000" stroke="none" stroke-width="1"/>
<rect x="495.7" y="130.7" width="3.4" height="3.4" fill="#000" stroke="none" stroke-width="1"/>
<rect x="495.7" y="133" width="3.4" height="3.4" fill="#000" stroke="none" stroke-width="1"/>
<text x="82.4" y="212.7" font-size="10.4" text-anchor="middle" font-weight="normal" fill="#111">CD4</text>
<text x="203.5" y="212.5" font-size="10.4" text-anchor="middle" font-weight="normal" fill="#111">CD8</text>
<text x="46.1" y="223" font-size="9" text-anchor="middle" font-weight="normal" fill="#111">SPL</text>
<text x="82" y="223" font-size="9" text-anchor="middle" font-weight="normal" fill="#111">LN</text>
<text x="121" y="223" font-size="9" text-anchor="middle" font-weight="normal" fill="#111">mLN</text>
<text x="167.5" y="223" font-size="9" text-anchor="middle" font-weight="normal" fill="#111">SPL</text>
<text x="202.6" y="223" font-size="9" text-anchor="middle" font-weight="normal" fill="#111">LN</text>
<text x="242.8" y="223" font-size="9" text-anchor="middle" font-weight="normal" fill="#111">mLN</text>
<text x="25.8" y="244.6" font-size="8.7" text-anchor="end" font-weight="normal" fill="#111">normal</text>
<text x="1" y="281.2" font-size="9.6" text-anchor="start" font-weight="normal" fill="#111">2B8</text>
<text x="0.3" y="314.9" font-size="8.7" text-anchor="start" font-weight="normal" fill="#111">18B12</text>
<text x="142.6" y="338.8" font-size="8.8" text-anchor="middle" font-weight="normal" fill="#111">CFSE</text>
<path d="M28.8,257.3 L28.8,256.6 L31.6,253.5 L33.8,246.8 L35.6,238 L36.7,230.3 L37.6,225.8 L38.7,230.3 L39.6,241.3 L40.5,251.3 L41.6,255.7 L44.5,256.7 L44.5,257.3 Z" fill="#000"/>
<line x1="28.5" y1="223.8" x2="63.7" y2="223.8" stroke="#666" stroke-width="0.9"/>
<line x1="28.5" y1="223.8" x2="28.5" y2="257.6" stroke="#888" stroke-width="0.9"/>
<line x1="63.7" y1="223.8" x2="63.7" y2="257.6" stroke="#777" stroke-width="0.9"/>
<line x1="28.1" y1="257.6" x2="64.1" y2="257.6" stroke="#333" stroke-width="1"/>
<line x1="30" y1="258.1" x2="30" y2="259.2" stroke="#aaa" stroke-width="0.7"/>
<line x1="32.9273" y1="258.1" x2="32.9273" y2="259.2" stroke="#aaa" stroke-width="0.7"/>
<line x1="35.8545" y1="258.1" x2="35.8545" y2="259.2" stroke="#aaa" stroke-width="0.7"/>
<line x1="38.7818" y1="258.1" x2="38.7818" y2="259.2" stroke="#aaa" stroke-width="0.7"/>
<line x1="41.7091" y1="258.1" x2="41.7091" y2="259.2" stroke="#aaa" stroke-width="0.7"/>
<line x1="44.6364" y1="258.1" x2="44.6364" y2="259.2" stroke="#aaa" stroke-width="0.7"/>
<line x1="47.5636" y1="258.1" x2="47.5636" y2="259.2" stroke="#aaa" stroke-width="0.7"/>
<line x1="50.4909" y1="258.1" x2="50.4909" y2="259.2" stroke="#aaa" stroke-width="0.7"/>
<line x1="53.4182" y1="258.1" x2="53.4182" y2="259.2" stroke="#aaa" stroke-width="0.7"/>
<line x1="56.3455" y1="258.1" x2="56.3455" y2="259.2" stroke="#aaa" stroke-width="0.7"/>
<line x1="59.2727" y1="258.1" x2="59.2727" y2="259.2" stroke="#aaa" stroke-width="0.7"/>
<line x1="62.2" y1="258.1" x2="62.2" y2="259.2" stroke="#aaa" stroke-width="0.7"/>
<path d="M65.3,257.3 L65.5,255.1 L66.9,253.4 L68.4,250.1 L69.7,245.6 L71,239.5 L72.2,232.8 L73.3,227.2 L74.2,225.2 L74.7,228.3 L75.3,235 L76.2,243.9 L77,251.8 L78.1,255.7 L86.5,256.4 L86.5,257.3 Z" fill="#000"/>
<line x1="65" y1="223.8" x2="100" y2="223.8" stroke="#666" stroke-width="0.9"/>
<line x1="65" y1="223.8" x2="65" y2="257.6" stroke="#888" stroke-width="0.9"/>
<line x1="100" y1="223.8" x2="100" y2="257.6" stroke="#777" stroke-width="0.9"/>
<line x1="64.6" y1="257.6" x2="100.4" y2="257.6" stroke="#333" stroke-width="1"/>
<line x1="66.5" y1="258.1" x2="66.5" y2="259.2" stroke="#aaa" stroke-width="0.7"/>
<line x1="69.4091" y1="258.1" x2="69.4091" y2="259.2" stroke="#aaa" stroke-width="0.7"/>
<line x1="72.3182" y1="258.1" x2="72.3182" y2="259.2" stroke="#aaa" stroke-width="0.7"/>
<line x1="75.2273" y1="258.1" x2="75.2273" y2="259.2" stroke="#aaa" stroke-width="0.7"/>
<line x1="78.1364" y1="258.1" x2="78.1364" y2="259.2" stroke="#aaa" stroke-width="0.7"/>
<line x1="81.0455" y1="258.1" x2="81.0455" y2="259.2" stroke="#aaa" stroke-width="0.7"/>
<line x1="83.9545" y1="258.1" x2="83.9545" y2="259.2" stroke="#aaa" stroke-width="0.7"/>
<line x1="86.8636" y1="258.1" x2="86.8636" y2="259.2" stroke="#aaa" stroke-width="0.7"/>
<line x1="89.7727" y1="258.1" x2="89.7727" y2="259.2" stroke="#aaa" stroke-width="0.7"/>
<line x1="92.6818" y1="258.1" x2="92.6818" y2="259.2" stroke="#aaa" stroke-width="0.7"/>
<line x1="95.5909" y1="258.1" x2="95.5909" y2="259.2" stroke="#aaa" stroke-width="0.7"/>
<line x1="98.5" y1="258.1" x2="98.5" y2="259.2" stroke="#aaa" stroke-width="0.7"/>
<path d="M101.3,257.3 L101.4,254 L102.4,253.3 L104,251.7 L105.5,248.9 L106.8,245 L107.9,239.4 L108.8,233.8 L109.6,228.2 L110.4,226 L111.1,228.2 L111.8,236 L112.6,243.8 L113.5,250.5 L114.6,254.5 L116.9,256.3 L116.9,257.3 Z" fill="#000"/>
<line x1="101" y1="223.8" x2="136.8" y2="223.8" stroke="#666" stroke-width="0.9"/>
<line x1="101" y1="223.8" x2="101" y2="257.6" stroke="#888" stroke-width="0.9"/>
<line x1="136.8" y1="223.8" x2="136.8" y2="257.6" stroke="#777" stroke-width="0.9"/>
<line x1="100.6" y1="257.6" x2="137.2" y2="257.6" stroke="#333" stroke-width="1"/>
<line x1="102.5" y1="258.1" x2="102.5" y2="259.2" stroke="#aaa" stroke-width="0.7"/>
<line x1="105.482" y1="258.1" x2="105.482" y2="259.2" stroke="#aaa" stroke-width="0.7"/>
<line x1="108.464" y1="258.1" x2="108.464" y2="259.2" stroke="#aaa" stroke-width="0.7"/>
<line x1="111.445" y1="258.1" x2="111.445" y2="259.2" stroke="#aaa" stroke-width="0.7"/>
<line x1="114.427" y1="258.1" x2="114.427" y2="259.2" stroke="#aaa" stroke-width="0.7"/>
<line x1="117.409" y1="258.1" x2="117.409" y2="259.2" stroke="#aaa" stroke-width="0.7"/>
<line x1="120.391" y1="258.1" x2="120.391" y2="259.2" stroke="#aaa" stroke-width="0.7"/>
<line x1="123.373" y1="258.1" x2="123.373" y2="259.2" stroke="#aaa" stroke-width="0.7"/>
<line x1="126.355" y1="258.1" x2="126.355" y2="259.2" stroke="#aaa" stroke-width="0.7"/>
<line x1="129.336" y1="258.1" x2="129.336" y2="259.2" stroke="#aaa" stroke-width="0.7"/>
<line x1="132.318" y1="258.1" x2="132.318" y2="259.2" stroke="#aaa" stroke-width="0.7"/>
<line x1="135.3" y1="258.1" x2="135.3" y2="259.2" stroke="#aaa" stroke-width="0.7"/>
<path d="M28.8,293.3 L29,293.1 L29.5,290.6 L30.4,291.2 L32,286.7 L33.1,280.5 L33.9,275 L34.6,277.2 L35.4,270.5 L36.5,264.9 L37.6,261.6 L38.2,264.9 L38.7,271.6 L39.3,280.5 L40.4,286.1 L41.3,290.6 L42.1,292.8 L44.5,293.3 L44.5,293.3 Z" fill="#000"/>
<line x1="28.5" y1="260.4" x2="63.7" y2="260.4" stroke="#666" stroke-width="0.9"/>
<line x1="28.5" y1="260.4" x2="28.5" y2="293.6" stroke="#888" stroke-width="0.9"/>
<line x1="63.7" y1="260.4" x2="63.7" y2="293.6" stroke="#777" stroke-width="0.9"/>
<line x1="28.1" y1="293.6" x2="64.1" y2="293.6" stroke="#333" stroke-width="1"/>
<line x1="30" y1="294.1" x2="30" y2="295.2" stroke="#aaa" stroke-width="0.7"/>
<line x1="32.9273" y1="294.1" x2="32.9273" y2="295.2" stroke="#aaa" stroke-width="0.7"/>
<line x1="35.8545" y1="294.1" x2="35.8545" y2="295.2" stroke="#aaa" stroke-width="0.7"/>
<line x1="38.7818" y1="294.1" x2="38.7818" y2="295.2" stroke="#aaa" stroke-width="0.7"/>
<line x1="41.7091" y1="294.1" x2="41.7091" y2="295.2" stroke="#aaa" stroke-width="0.7"/>
<line x1="44.6364" y1="294.1" x2="44.6364" y2="295.2" stroke="#aaa" stroke-width="0.7"/>
<line x1="47.5636" y1="294.1" x2="47.5636" y2="295.2" stroke="#aaa" stroke-width="0.7"/>
<line x1="50.4909" y1="294.1" x2="50.4909" y2="295.2" stroke="#aaa" stroke-width="0.7"/>
<line x1="53.4182" y1="294.1" x2="53.4182" y2="295.2" stroke="#aaa" stroke-width="0.7"/>
<line x1="56.3455" y1="294.1" x2="56.3455" y2="295.2" stroke="#aaa" stroke-width="0.7"/>
<line x1="59.2727" y1="294.1" x2="59.2727" y2="295.2" stroke="#aaa" stroke-width="0.7"/>
<line x1="62.2" y1="294.1" x2="62.2" y2="295.2" stroke="#aaa" stroke-width="0.7"/>
<path d="M65.3,293.3 L65.5,292.1 L67.4,289.9 L69.6,282.6 L71.8,272.2 L73.2,265.1 L74,262.7 L74.7,267.1 L75.4,273.7 L76.9,285.5 L78.4,292.1 L81,293.1 L81,293.3 Z" fill="#000"/>
<line x1="65" y1="260.4" x2="100" y2="260.4" stroke="#666" stroke-width="0.9"/>
<line x1="65" y1="260.4" x2="65" y2="293.6" stroke="#888" stroke-width="0.9"/>
<line x1="100" y1="260.4" x2="100" y2="293.6" stroke="#777" stroke-width="0.9"/>
<line x1="64.6" y1="293.6" x2="100.4" y2="293.6" stroke="#333" stroke-width="1"/>
<line x1="66.5" y1="294.1" x2="66.5" y2="295.2" stroke="#aaa" stroke-width="0.7"/>
<line x1="69.4091" y1="294.1" x2="69.4091" y2="295.2" stroke="#aaa" stroke-width="0.7"/>
<line x1="72.3182" y1="294.1" x2="72.3182" y2="295.2" stroke="#aaa" stroke-width="0.7"/>
<line x1="75.2273" y1="294.1" x2="75.2273" y2="295.2" stroke="#aaa" stroke-width="0.7"/>
<line x1="78.1364" y1="294.1" x2="78.1364" y2="295.2" stroke="#aaa" stroke-width="0.7"/>
<line x1="81.0455" y1="294.1" x2="81.0455" y2="295.2" stroke="#aaa" stroke-width="0.7"/>
<line x1="83.9545" y1="294.1" x2="83.9545" y2="295.2" stroke="#aaa" stroke-width="0.7"/>
<line x1="86.8636" y1="294.1" x2="86.8636" y2="295.2" stroke="#aaa" stroke-width="0.7"/>
<line x1="89.7727" y1="294.1" x2="89.7727" y2="295.2" stroke="#aaa" stroke-width="0.7"/>
<line x1="92.6818" y1="294.1" x2="92.6818" y2="295.2" stroke="#aaa" stroke-width="0.7"/>
<line x1="95.5909" y1="294.1" x2="95.5909" y2="295.2" stroke="#aaa" stroke-width="0.7"/>
<line x1="98.5" y1="294.1" x2="98.5" y2="295.2" stroke="#aaa" stroke-width="0.7"/>
<path d="M101.3,293.3 L101.4,292.1 L102.6,290.6 L103.7,288.9 L105.1,286.7 L106.6,283.9 L107.7,278.9 L108.8,271.6 L109.9,266 L110.7,262.7 L111.3,264.9 L112.2,272.7 L113,280.5 L113.7,287.2 L114.6,291.7 L117.4,293 L117.4,293.3 Z" fill="#000"/>
<line x1="101" y1="260.4" x2="136.8" y2="260.4" stroke="#666" stroke-width="0.9"/>
<line x1="101" y1="260.4" x2="101" y2="293.6" stroke="#888" stroke-width="0.9"/>
<line x1="136.8" y1="260.4" x2="136.8" y2="293.6" stroke="#777" stroke-width="0.9"/>
<line x1="100.6" y1="293.6" x2="137.2" y2="293.6" stroke="#333" stroke-width="1"/>
<line x1="102.5" y1="294.1" x2="102.5" y2="295.2" stroke="#aaa" stroke-width="0.7"/>
<line x1="105.482" y1="294.1" x2="105.482" y2="295.2" stroke="#aaa" stroke-width="0.7"/>
<line x1="108.464" y1="294.1" x2="108.464" y2="295.2" stroke="#aaa" stroke-width="0.7"/>
<line x1="111.445" y1="294.1" x2="111.445" y2="295.2" stroke="#aaa" stroke-width="0.7"/>
<line x1="114.427" y1="294.1" x2="114.427" y2="295.2" stroke="#aaa" stroke-width="0.7"/>
<line x1="117.409" y1="294.1" x2="117.409" y2="295.2" stroke="#aaa" stroke-width="0.7"/>
<line x1="120.391" y1="294.1" x2="120.391" y2="295.2" stroke="#aaa" stroke-width="0.7"/>
<line x1="123.373" y1="294.1" x2="123.373" y2="295.2" stroke="#aaa" stroke-width="0.7"/>
<line x1="126.355" y1="294.1" x2="126.355" y2="295.2" stroke="#aaa" stroke-width="0.7"/>
<line x1="129.336" y1="294.1" x2="129.336" y2="295.2" stroke="#aaa" stroke-width="0.7"/>
<line x1="132.318" y1="294.1" x2="132.318" y2="295.2" stroke="#aaa" stroke-width="0.7"/>
<line x1="135.3" y1="294.1" x2="135.3" y2="295.2" stroke="#aaa" stroke-width="0.7"/>
<path d="M28.8,328.9 L29,326.4 L29.8,324.2 L30.9,321.9 L32,317.5 L33.1,311.9 L34.3,306.3 L35.4,301.8 L36.5,297.9 L37.3,297.1 L38,299.6 L38.4,305.2 L39.1,314.1 L39.8,323.1 L40.6,327 L42.1,328.3 L42.1,328.9 Z" fill="#000"/>
<line x1="28.5" y1="296.3" x2="63.7" y2="296.3" stroke="#666" stroke-width="0.9"/>
<line x1="28.5" y1="296.3" x2="28.5" y2="329.2" stroke="#888" stroke-width="0.9"/>
<line x1="63.7" y1="296.3" x2="63.7" y2="329.2" stroke="#777" stroke-width="0.9"/>
<line x1="28.1" y1="329.2" x2="64.1" y2="329.2" stroke="#333" stroke-width="1"/>
<line x1="30" y1="329.7" x2="30" y2="330.8" stroke="#aaa" stroke-width="0.7"/>
<line x1="32.9273" y1="329.7" x2="32.9273" y2="330.8" stroke="#aaa" stroke-width="0.7"/>
<line x1="35.8545" y1="329.7" x2="35.8545" y2="330.8" stroke="#aaa" stroke-width="0.7"/>
<line x1="38.7818" y1="329.7" x2="38.7818" y2="330.8" stroke="#aaa" stroke-width="0.7"/>
<line x1="41.7091" y1="329.7" x2="41.7091" y2="330.8" stroke="#aaa" stroke-width="0.7"/>
<line x1="44.6364" y1="329.7" x2="44.6364" y2="330.8" stroke="#aaa" stroke-width="0.7"/>
<line x1="47.5636" y1="329.7" x2="47.5636" y2="330.8" stroke="#aaa" stroke-width="0.7"/>
<line x1="50.4909" y1="329.7" x2="50.4909" y2="330.8" stroke="#aaa" stroke-width="0.7"/>
<line x1="53.4182" y1="329.7" x2="53.4182" y2="330.8" stroke="#aaa" stroke-width="0.7"/>
<line x1="56.3455" y1="329.7" x2="56.3455" y2="330.8" stroke="#aaa" stroke-width="0.7"/>
<line x1="59.2727" y1="329.7" x2="59.2727" y2="330.8" stroke="#aaa" stroke-width="0.7"/>
<line x1="62.2" y1="329.7" x2="62.2" y2="330.8" stroke="#aaa" stroke-width="0.7"/>
<path d="M65.3,328.9 L65.5,323 L66.4,324.2 L67.5,321.4 L68.6,317.5 L69.7,311.9 L70.8,306.3 L71.9,300.7 L72.8,297.4 L74,297.6 L74.4,300.7 L75.1,310.8 L75.8,320.8 L76.6,326.4 L78.1,328.3 L78.1,328.9 Z" fill="#000"/>
<line x1="65" y1="296.3" x2="100" y2="296.3" stroke="#666" stroke-width="0.9"/>
<line x1="65" y1="296.3" x2="65" y2="329.2" stroke="#888" stroke-width="0.9"/>
<line x1="100" y1="296.3" x2="100" y2="329.2" stroke="#777" stroke-width="0.9"/>
<line x1="64.6" y1="329.2" x2="100.4" y2="329.2" stroke="#333" stroke-width="1"/>
<line x1="66.5" y1="329.7" x2="66.5" y2="330.8" stroke="#aaa" stroke-width="0.7"/>
<line x1="69.4091" y1="329.7" x2="69.4091" y2="330.8" stroke="#aaa" stroke-width="0.7"/>
<line x1="72.3182" y1="329.7" x2="72.3182" y2="330.8" stroke="#aaa" stroke-width="0.7"/>
<line x1="75.2273" y1="329.7" x2="75.2273" y2="330.8" stroke="#aaa" stroke-width="0.7"/>
<line x1="78.1364" y1="329.7" x2="78.1364" y2="330.8" stroke="#aaa" stroke-width="0.7"/>
<line x1="81.0455" y1="329.7" x2="81.0455" y2="330.8" stroke="#aaa" stroke-width="0.7"/>
<line x1="83.9545" y1="329.7" x2="83.9545" y2="330.8" stroke="#aaa" stroke-width="0.7"/>
<line x1="86.8636" y1="329.7" x2="86.8636" y2="330.8" stroke="#aaa" stroke-width="0.7"/>
<line x1="89.7727" y1="329.7" x2="89.7727" y2="330.8" stroke="#aaa" stroke-width="0.7"/>
<line x1="92.6818" y1="329.7" x2="92.6818" y2="330.8" stroke="#aaa" stroke-width="0.7"/>
<line x1="95.5909" y1="329.7" x2="95.5909" y2="330.8" stroke="#aaa" stroke-width="0.7"/>
<line x1="98.5" y1="329.7" x2="98.5" y2="330.8" stroke="#aaa" stroke-width="0.7"/>
<path d="M101.3,328.9 L101.4,324 L102.4,323.6 L103.2,324.2 L104.4,321.9 L105.5,318.6 L106.6,314.1 L107.7,307.4 L108.8,301.8 L109.9,297.9 L110.5,297.1 L111.1,299.6 L111.6,306.3 L112.4,316.3 L113.3,324.2 L114.1,327.5 L115.8,328.3 L115.8,328.9 Z" fill="#000"/>
<line x1="101" y1="296.3" x2="136.8" y2="296.3" stroke="#666" stroke-width="0.9"/>
<line x1="101" y1="296.3" x2="101" y2="329.2" stroke="#888" stroke-width="0.9"/>
<line x1="136.8" y1="296.3" x2="136.8" y2="329.2" stroke="#777" stroke-width="0.9"/>
<line x1="100.6" y1="329.2" x2="137.2" y2="329.2" stroke="#333" stroke-width="1"/>
<line x1="102.5" y1="329.7" x2="102.5" y2="330.8" stroke="#aaa" stroke-width="0.7"/>
<line x1="105.482" y1="329.7" x2="105.482" y2="330.8" stroke="#aaa" stroke-width="0.7"/>
<line x1="108.464" y1="329.7" x2="108.464" y2="330.8" stroke="#aaa" stroke-width="0.7"/>
<line x1="111.445" y1="329.7" x2="111.445" y2="330.8" stroke="#aaa" stroke-width="0.7"/>
<line x1="114.427" y1="329.7" x2="114.427" y2="330.8" stroke="#aaa" stroke-width="0.7"/>
<line x1="117.409" y1="329.7" x2="117.409" y2="330.8" stroke="#aaa" stroke-width="0.7"/>
<line x1="120.391" y1="329.7" x2="120.391" y2="330.8" stroke="#aaa" stroke-width="0.7"/>
<line x1="123.373" y1="329.7" x2="123.373" y2="330.8" stroke="#aaa" stroke-width="0.7"/>
<line x1="126.355" y1="329.7" x2="126.355" y2="330.8" stroke="#aaa" stroke-width="0.7"/>
<line x1="129.336" y1="329.7" x2="129.336" y2="330.8" stroke="#aaa" stroke-width="0.7"/>
<line x1="132.318" y1="329.7" x2="132.318" y2="330.8" stroke="#aaa" stroke-width="0.7"/>
<line x1="135.3" y1="329.7" x2="135.3" y2="330.8" stroke="#aaa" stroke-width="0.7"/>
<path d="M151.1,257.5 L151.2,255.5 L152.4,252.7 L153.5,248.8 L154.4,247.7 L155.1,250.5 L155.9,244.3 L156.8,238.8 L157.7,230.9 L158.5,225.4 L159.6,225.1 L160.2,228.7 L161.1,236.5 L161.8,244.3 L162.6,251 L163.5,255 L165.2,257.2 L170.8,257.5 L170.8,257.5 Z" fill="#000"/>
<line x1="150.8" y1="224.4" x2="186.3" y2="224.4" stroke="#666" stroke-width="0.9"/>
<line x1="150.8" y1="224.4" x2="150.8" y2="257.8" stroke="#888" stroke-width="0.9"/>
<line x1="186.3" y1="224.4" x2="186.3" y2="257.8" stroke="#777" stroke-width="0.9"/>
<line x1="150.4" y1="257.8" x2="186.7" y2="257.8" stroke="#333" stroke-width="1"/>
<line x1="152.3" y1="258.3" x2="152.3" y2="259.4" stroke="#aaa" stroke-width="0.7"/>
<line x1="155.255" y1="258.3" x2="155.255" y2="259.4" stroke="#aaa" stroke-width="0.7"/>
<line x1="158.209" y1="258.3" x2="158.209" y2="259.4" stroke="#aaa" stroke-width="0.7"/>
<line x1="161.164" y1="258.3" x2="161.164" y2="259.4" stroke="#aaa" stroke-width="0.7"/>
<line x1="164.118" y1="258.3" x2="164.118" y2="259.4" stroke="#aaa" stroke-width="0.7"/>
<line x1="167.073" y1="258.3" x2="167.073" y2="259.4" stroke="#aaa" stroke-width="0.7"/>
<line x1="170.027" y1="258.3" x2="170.027" y2="259.4" stroke="#aaa" stroke-width="0.7"/>
<line x1="172.982" y1="258.3" x2="172.982" y2="259.4" stroke="#aaa" stroke-width="0.7"/>
<line x1="175.936" y1="258.3" x2="175.936" y2="259.4" stroke="#aaa" stroke-width="0.7"/>
<line x1="178.891" y1="258.3" x2="178.891" y2="259.4" stroke="#aaa" stroke-width="0.7"/>
<line x1="181.845" y1="258.3" x2="181.845" y2="259.4" stroke="#aaa" stroke-width="0.7"/>
<line x1="184.8" y1="258.3" x2="184.8" y2="259.4" stroke="#aaa" stroke-width="0.7"/>
<path d="M188.5,257.5 L188.5,255 L189.6,253.8 L191,251.6 L192.1,248.8 L193.3,245.5 L194.4,241 L195.5,233.2 L196.3,226.5 L196.8,224.8 L197.4,228.7 L198.1,234.3 L198.8,239.9 L199.6,246.6 L200.3,252.2 L201.6,256.1 L204.4,257.2 L222.2,257.5 L222.2,257.5 Z" fill="#000"/>
<line x1="188.2" y1="224.4" x2="223.3" y2="224.4" stroke="#666" stroke-width="0.9"/>
<line x1="188.2" y1="224.4" x2="188.2" y2="257.8" stroke="#888" stroke-width="0.9"/>
<line x1="223.3" y1="224.4" x2="223.3" y2="257.8" stroke="#777" stroke-width="0.9"/>
<line x1="187.8" y1="257.8" x2="223.7" y2="257.8" stroke="#333" stroke-width="1"/>
<line x1="189.7" y1="258.3" x2="189.7" y2="259.4" stroke="#aaa" stroke-width="0.7"/>
<line x1="192.618" y1="258.3" x2="192.618" y2="259.4" stroke="#aaa" stroke-width="0.7"/>
<line x1="195.536" y1="258.3" x2="195.536" y2="259.4" stroke="#aaa" stroke-width="0.7"/>
<line x1="198.455" y1="258.3" x2="198.455" y2="259.4" stroke="#aaa" stroke-width="0.7"/>
<line x1="201.373" y1="258.3" x2="201.373" y2="259.4" stroke="#aaa" stroke-width="0.7"/>
<line x1="204.291" y1="258.3" x2="204.291" y2="259.4" stroke="#aaa" stroke-width="0.7"/>
<line x1="207.209" y1="258.3" x2="207.209" y2="259.4" stroke="#aaa" stroke-width="0.7"/>
<line x1="210.127" y1="258.3" x2="210.127" y2="259.4" stroke="#aaa" stroke-width="0.7"/>
<line x1="213.045" y1="258.3" x2="213.045" y2="259.4" stroke="#aaa" stroke-width="0.7"/>
<line x1="215.964" y1="258.3" x2="215.964" y2="259.4" stroke="#aaa" stroke-width="0.7"/>
<line x1="218.882" y1="258.3" x2="218.882" y2="259.4" stroke="#aaa" stroke-width="0.7"/>
<line x1="221.8" y1="258.3" x2="221.8" y2="259.4" stroke="#aaa" stroke-width="0.7"/>
<path d="M225.1,257.5 L225.2,251.4 L226.4,249.9 L227.5,246.6 L228.6,241 L229.7,234.3 L230.8,229.8 L231.9,226.5 L232.5,225.4 L233.3,227.6 L234,233.2 L234.7,242.1 L235.5,251 L236.4,255.5 L238.6,257.2 L258.8,257.5 L258.8,257.5 Z" fill="#000"/>
<line x1="224.8" y1="224.4" x2="259.8" y2="224.4" stroke="#666" stroke-width="0.9"/>
<line x1="224.8" y1="224.4" x2="224.8" y2="257.8" stroke="#888" stroke-width="0.9"/>
<line x1="259.8" y1="224.4" x2="259.8" y2="257.8" stroke="#777" stroke-width="0.9"/>
<line x1="224.4" y1="257.8" x2="260.2" y2="257.8" stroke="#333" stroke-width="1"/>
<line x1="226.3" y1="258.3" x2="226.3" y2="259.4" stroke="#aaa" stroke-width="0.7"/>
<line x1="229.209" y1="258.3" x2="229.209" y2="259.4" stroke="#aaa" stroke-width="0.7"/>
<line x1="232.118" y1="258.3" x2="232.118" y2="259.4" stroke="#aaa" stroke-width="0.7"/>
<line x1="235.027" y1="258.3" x2="235.027" y2="259.4" stroke="#aaa" stroke-width="0.7"/>
<line x1="237.936" y1="258.3" x2="237.936" y2="259.4" stroke="#aaa" stroke-width="0.7"/>
<line x1="240.845" y1="258.3" x2="240.845" y2="259.4" stroke="#aaa" stroke-width="0.7"/>
<line x1="243.755" y1="258.3" x2="243.755" y2="259.4" stroke="#aaa" stroke-width="0.7"/>
<line x1="246.664" y1="258.3" x2="246.664" y2="259.4" stroke="#aaa" stroke-width="0.7"/>
<line x1="249.573" y1="258.3" x2="249.573" y2="259.4" stroke="#aaa" stroke-width="0.7"/>
<line x1="252.482" y1="258.3" x2="252.482" y2="259.4" stroke="#aaa" stroke-width="0.7"/>
<line x1="255.391" y1="258.3" x2="255.391" y2="259.4" stroke="#aaa" stroke-width="0.7"/>
<line x1="258.3" y1="258.3" x2="258.3" y2="259.4" stroke="#aaa" stroke-width="0.7"/>
<path d="M151.1,293.3 L151.2,285.6 L152.4,285 L153.5,285.6 L154.4,282.8 L155.1,275 L155.9,268.2 L156.6,269.4 L157,272.7 L157.7,267.2 L158.4,260.9 L159.3,260.9 L159.7,267.2 L160.2,270.5 L161.1,270.5 L162.2,271 L162.6,276.1 L163.3,283.9 L164.1,290.6 L165.2,292.8 L167.8,293.3 L167.8,293.3 Z" fill="#000"/>
<line x1="150.8" y1="260.4" x2="186.3" y2="260.4" stroke="#666" stroke-width="0.9"/>
<line x1="150.8" y1="260.4" x2="150.8" y2="293.6" stroke="#888" stroke-width="0.9"/>
<line x1="186.3" y1="260.4" x2="186.3" y2="293.6" stroke="#777" stroke-width="0.9"/>
<line x1="150.4" y1="293.6" x2="186.7" y2="293.6" stroke="#333" stroke-width="1"/>
<line x1="152.3" y1="294.1" x2="152.3" y2="295.2" stroke="#aaa" stroke-width="0.7"/>
<line x1="155.255" y1="294.1" x2="155.255" y2="295.2" stroke="#aaa" stroke-width="0.7"/>
<line x1="158.209" y1="294.1" x2="158.209" y2="295.2" stroke="#aaa" stroke-width="0.7"/>
<line x1="161.164" y1="294.1" x2="161.164" y2="295.2" stroke="#aaa" stroke-width="0.7"/>
<line x1="164.118" y1="294.1" x2="164.118" y2="295.2" stroke="#aaa" stroke-width="0.7"/>
<line x1="167.073" y1="294.1" x2="167.073" y2="295.2" stroke="#aaa" stroke-width="0.7"/>
<line x1="170.027" y1="294.1" x2="170.027" y2="295.2" stroke="#aaa" stroke-width="0.7"/>
<line x1="172.982" y1="294.1" x2="172.982" y2="295.2" stroke="#aaa" stroke-width="0.7"/>
<line x1="175.936" y1="294.1" x2="175.936" y2="295.2" stroke="#aaa" stroke-width="0.7"/>
<line x1="178.891" y1="294.1" x2="178.891" y2="295.2" stroke="#aaa" stroke-width="0.7"/>
<line x1="181.845" y1="294.1" x2="181.845" y2="295.2" stroke="#aaa" stroke-width="0.7"/>
<line x1="184.8" y1="294.1" x2="184.8" y2="295.2" stroke="#aaa" stroke-width="0.7"/>
<path d="M188.5,293.3 L188.8,290.6 L189.9,288.4 L191.4,285 L192.7,282.2 L194,280 L195.2,275 L196.1,268.2 L197,262.7 L197.4,261 L198.1,267.1 L198.8,276.1 L199.6,283.9 L200.5,289.5 L201.6,291.7 L205,292.3 L222.2,293 L222.2,293.3 Z" fill="#000"/>
<line x1="188.2" y1="260.4" x2="223.3" y2="260.4" stroke="#666" stroke-width="0.9"/>
<line x1="188.2" y1="260.4" x2="188.2" y2="293.6" stroke="#888" stroke-width="0.9"/>
<line x1="223.3" y1="260.4" x2="223.3" y2="293.6" stroke="#777" stroke-width="0.9"/>
<line x1="187.8" y1="293.6" x2="223.7" y2="293.6" stroke="#333" stroke-width="1"/>
<line x1="189.7" y1="294.1" x2="189.7" y2="295.2" stroke="#aaa" stroke-width="0.7"/>
<line x1="192.618" y1="294.1" x2="192.618" y2="295.2" stroke="#aaa" stroke-width="0.7"/>
<line x1="195.536" y1="294.1" x2="195.536" y2="295.2" stroke="#aaa" stroke-width="0.7"/>
<line x1="198.455" y1="294.1" x2="198.455" y2="295.2" stroke="#aaa" stroke-width="0.7"/>
<line x1="201.373" y1="294.1" x2="201.373" y2="295.2" stroke="#aaa" stroke-width="0.7"/>
<line x1="204.291" y1="294.1" x2="204.291" y2="295.2" stroke="#aaa" stroke-width="0.7"/>
<line x1="207.209" y1="294.1" x2="207.209" y2="295.2" stroke="#aaa" stroke-width="0.7"/>
<line x1="210.127" y1="294.1" x2="210.127" y2="295.2" stroke="#aaa" stroke-width="0.7"/>
<line x1="213.045" y1="294.1" x2="213.045" y2="295.2" stroke="#aaa" stroke-width="0.7"/>
<line x1="215.964" y1="294.1" x2="215.964" y2="295.2" stroke="#aaa" stroke-width="0.7"/>
<line x1="218.882" y1="294.1" x2="218.882" y2="295.2" stroke="#aaa" stroke-width="0.7"/>
<line x1="221.8" y1="294.1" x2="221.8" y2="295.2" stroke="#aaa" stroke-width="0.7"/>
<path d="M225.1,293.3 L225.2,290.2 L226.4,288.9 L227.5,287.2 L228.6,285 L229.5,280.5 L230.3,275 L231,273.8 L231.9,276.1 L232.8,269.4 L233.6,262.7 L234.2,260.8 L234.7,263.8 L235.5,271.6 L236.4,280.5 L237.3,288.4 L238.6,291.7 L245.3,292.3 L258.8,292.9 L258.8,293.3 Z" fill="#000"/>
<line x1="224.8" y1="260.4" x2="259.8" y2="260.4" stroke="#666" stroke-width="0.9"/>
<line x1="224.8" y1="260.4" x2="224.8" y2="293.6" stroke="#888" stroke-width="0.9"/>
<line x1="259.8" y1="260.4" x2="259.8" y2="293.6" stroke="#777" stroke-width="0.9"/>
<line x1="224.4" y1="293.6" x2="260.2" y2="293.6" stroke="#333" stroke-width="1"/>
<line x1="226.3" y1="294.1" x2="226.3" y2="295.2" stroke="#aaa" stroke-width="0.7"/>
<line x1="229.209" y1="294.1" x2="229.209" y2="295.2" stroke="#aaa" stroke-width="0.7"/>
<line x1="232.118" y1="294.1" x2="232.118" y2="295.2" stroke="#aaa" stroke-width="0.7"/>
<line x1="235.027" y1="294.1" x2="235.027" y2="295.2" stroke="#aaa" stroke-width="0.7"/>
<line x1="237.936" y1="294.1" x2="237.936" y2="295.2" stroke="#aaa" stroke-width="0.7"/>
<line x1="240.845" y1="294.1" x2="240.845" y2="295.2" stroke="#aaa" stroke-width="0.7"/>
<line x1="243.755" y1="294.1" x2="243.755" y2="295.2" stroke="#aaa" stroke-width="0.7"/>
<line x1="246.664" y1="294.1" x2="246.664" y2="295.2" stroke="#aaa" stroke-width="0.7"/>
<line x1="249.573" y1="294.1" x2="249.573" y2="295.2" stroke="#aaa" stroke-width="0.7"/>
<line x1="252.482" y1="294.1" x2="252.482" y2="295.2" stroke="#aaa" stroke-width="0.7"/>
<line x1="255.391" y1="294.1" x2="255.391" y2="295.2" stroke="#aaa" stroke-width="0.7"/>
<line x1="258.3" y1="294.1" x2="258.3" y2="295.2" stroke="#aaa" stroke-width="0.7"/>
<path d="M151.1,329 L151.3,319.8 L152.4,320.9 L153.5,320.4 L154.6,318.7 L155.7,314.2 L156.6,310.9 L157.4,306.4 L158.2,300.8 L159.1,297.2 L160,299.7 L160.7,305.3 L161.5,308.6 L162.2,309.7 L162.6,316.4 L163.3,325.4 L164.6,327.6 L168,328.8 L177.8,329 L177.8,329 Z" fill="#000"/>
<line x1="150.8" y1="296.4" x2="186.3" y2="296.4" stroke="#666" stroke-width="0.9"/>
<line x1="150.8" y1="296.4" x2="150.8" y2="329.3" stroke="#888" stroke-width="0.9"/>
<line x1="186.3" y1="296.4" x2="186.3" y2="329.3" stroke="#777" stroke-width="0.9"/>
<line x1="150.4" y1="329.3" x2="186.7" y2="329.3" stroke="#333" stroke-width="1"/>
<line x1="152.3" y1="329.8" x2="152.3" y2="330.9" stroke="#aaa" stroke-width="0.7"/>
<line x1="155.255" y1="329.8" x2="155.255" y2="330.9" stroke="#aaa" stroke-width="0.7"/>
<line x1="158.209" y1="329.8" x2="158.209" y2="330.9" stroke="#aaa" stroke-width="0.7"/>
<line x1="161.164" y1="329.8" x2="161.164" y2="330.9" stroke="#aaa" stroke-width="0.7"/>
<line x1="164.118" y1="329.8" x2="164.118" y2="330.9" stroke="#aaa" stroke-width="0.7"/>
<line x1="167.073" y1="329.8" x2="167.073" y2="330.9" stroke="#aaa" stroke-width="0.7"/>
<line x1="170.027" y1="329.8" x2="170.027" y2="330.9" stroke="#aaa" stroke-width="0.7"/>
<line x1="172.982" y1="329.8" x2="172.982" y2="330.9" stroke="#aaa" stroke-width="0.7"/>
<line x1="175.936" y1="329.8" x2="175.936" y2="330.9" stroke="#aaa" stroke-width="0.7"/>
<line x1="178.891" y1="329.8" x2="178.891" y2="330.9" stroke="#aaa" stroke-width="0.7"/>
<line x1="181.845" y1="329.8" x2="181.845" y2="330.9" stroke="#aaa" stroke-width="0.7"/>
<line x1="184.8" y1="329.8" x2="184.8" y2="330.9" stroke="#aaa" stroke-width="0.7"/>
<path d="M188.5,329 L188.7,320.1 L189.9,316.4 L191.4,312 L192.7,306.4 L193.8,301.9 L194.9,298 L195.8,297.2 L197.2,298.6 L197.7,303 L198.3,313.1 L199.2,323.2 L200,327.1 L202.2,328.7 L222.2,329 L222.2,329 Z" fill="#000"/>
<line x1="188.2" y1="296.4" x2="223.3" y2="296.4" stroke="#666" stroke-width="0.9"/>
<line x1="188.2" y1="296.4" x2="188.2" y2="329.3" stroke="#888" stroke-width="0.9"/>
<line x1="223.3" y1="296.4" x2="223.3" y2="329.3" stroke="#777" stroke-width="0.9"/>
<line x1="187.8" y1="329.3" x2="223.7" y2="329.3" stroke="#333" stroke-width="1"/>
<line x1="189.7" y1="329.8" x2="189.7" y2="330.9" stroke="#aaa" stroke-width="0.7"/>
<line x1="192.618" y1="329.8" x2="192.618" y2="330.9" stroke="#aaa" stroke-width="0.7"/>
<line x1="195.536" y1="329.8" x2="195.536" y2="330.9" stroke="#aaa" stroke-width="0.7"/>
<line x1="198.455" y1="329.8" x2="198.455" y2="330.9" stroke="#aaa" stroke-width="0.7"/>
<line x1="201.373" y1="329.8" x2="201.373" y2="330.9" stroke="#aaa" stroke-width="0.7"/>
<line x1="204.291" y1="329.8" x2="204.291" y2="330.9" stroke="#aaa" stroke-width="0.7"/>
<line x1="207.209" y1="329.8" x2="207.209" y2="330.9" stroke="#aaa" stroke-width="0.7"/>
<line x1="210.127" y1="329.8" x2="210.127" y2="330.9" stroke="#aaa" stroke-width="0.7"/>
<line x1="213.045" y1="329.8" x2="213.045" y2="330.9" stroke="#aaa" stroke-width="0.7"/>
<line x1="215.964" y1="329.8" x2="215.964" y2="330.9" stroke="#aaa" stroke-width="0.7"/>
<line x1="218.882" y1="329.8" x2="218.882" y2="330.9" stroke="#aaa" stroke-width="0.7"/>
<line x1="221.8" y1="329.8" x2="221.8" y2="330.9" stroke="#aaa" stroke-width="0.7"/>
<path d="M225.1,329 L225.2,325.4 L225.8,320.9 L226.3,322.6 L226.9,323.1 L228,319.8 L229.1,317.6 L229.9,308.6 L230.8,298.6 L231.4,297.5 L231.9,305.3 L232.5,308.6 L233.3,300.8 L233.9,296.8 L234.4,298.6 L235.1,307.5 L235.8,317.6 L236.6,324.3 L237.5,325.9 L238.6,326.5 L239.5,328.2 L240.9,329 L240.9,329 Z" fill="#000"/>
<line x1="224.8" y1="296.4" x2="259.8" y2="296.4" stroke="#666" stroke-width="0.9"/>
<line x1="224.8" y1="296.4" x2="224.8" y2="329.3" stroke="#888" stroke-width="0.9"/>
<line x1="259.8" y1="296.4" x2="259.8" y2="329.3" stroke="#777" stroke-width="0.9"/>
<line x1="224.4" y1="329.3" x2="260.2" y2="329.3" stroke="#333" stroke-width="1"/>
<line x1="226.3" y1="329.8" x2="226.3" y2="330.9" stroke="#aaa" stroke-width="0.7"/>
<line x1="229.209" y1="329.8" x2="229.209" y2="330.9" stroke="#aaa" stroke-width="0.7"/>
<line x1="232.118" y1="329.8" x2="232.118" y2="330.9" stroke="#aaa" stroke-width="0.7"/>
<line x1="235.027" y1="329.8" x2="235.027" y2="330.9" stroke="#aaa" stroke-width="0.7"/>
<line x1="237.936" y1="329.8" x2="237.936" y2="330.9" stroke="#aaa" stroke-width="0.7"/>
<line x1="240.845" y1="329.8" x2="240.845" y2="330.9" stroke="#aaa" stroke-width="0.7"/>
<line x1="243.755" y1="329.8" x2="243.755" y2="330.9" stroke="#aaa" stroke-width="0.7"/>
<line x1="246.664" y1="329.8" x2="246.664" y2="330.9" stroke="#aaa" stroke-width="0.7"/>
<line x1="249.573" y1="329.8" x2="249.573" y2="330.9" stroke="#aaa" stroke-width="0.7"/>
<line x1="252.482" y1="329.8" x2="252.482" y2="330.9" stroke="#aaa" stroke-width="0.7"/>
<line x1="255.391" y1="329.8" x2="255.391" y2="330.9" stroke="#aaa" stroke-width="0.7"/>
<line x1="258.3" y1="329.8" x2="258.3" y2="330.9" stroke="#aaa" stroke-width="0.7"/>
<text x="285.8" y="273.8" font-size="10.4" text-anchor="middle" font-weight="normal" fill="#111" transform="rotate(-90 285.8 273.8)" textLength="71" lengthAdjust="spacingAndGlyphs">CD4/CD8 ratio</text>
<line x1="307.6" y1="233.5" x2="307.6" y2="308.7" stroke="#222" stroke-width="1.4"/>
<line x1="306.9" y1="308.1" x2="363.6" y2="308.1" stroke="#222" stroke-width="1.3"/>
<line x1="305.6" y1="244.8" x2="307.6" y2="244.8" stroke="#222" stroke-width="0.8"/>
<text x="304.4" y="248" font-size="9" text-anchor="end" font-weight="normal" fill="#111">10</text>
<line x1="305.6" y1="276.4" x2="307.6" y2="276.4" stroke="#222" stroke-width="0.8"/>
<text x="304.4" y="279.6" font-size="9" text-anchor="end" font-weight="normal" fill="#111">1</text>
<line x1="305.6" y1="308" x2="307.6" y2="308" stroke="#222" stroke-width="0.8"/>
<text x="304.4" y="311.2" font-size="9" text-anchor="end" font-weight="normal" fill="#111">0.1</text>
<line x1="306.4" y1="266.887" x2="307.6" y2="266.887" stroke="#444" stroke-width="0.5"/>
<line x1="306.4" y1="261.323" x2="307.6" y2="261.323" stroke="#444" stroke-width="0.5"/>
<line x1="306.4" y1="257.375" x2="307.6" y2="257.375" stroke="#444" stroke-width="0.5"/>
<line x1="306.4" y1="254.313" x2="307.6" y2="254.313" stroke="#444" stroke-width="0.5"/>
<line x1="306.4" y1="251.81" x2="307.6" y2="251.81" stroke="#444" stroke-width="0.5"/>
<line x1="306.4" y1="249.695" x2="307.6" y2="249.695" stroke="#444" stroke-width="0.5"/>
<line x1="306.4" y1="247.862" x2="307.6" y2="247.862" stroke="#444" stroke-width="0.5"/>
<line x1="306.4" y1="246.246" x2="307.6" y2="246.246" stroke="#444" stroke-width="0.5"/>
<line x1="306.4" y1="298.487" x2="307.6" y2="298.487" stroke="#444" stroke-width="0.5"/>
<line x1="306.4" y1="292.923" x2="307.6" y2="292.923" stroke="#444" stroke-width="0.5"/>
<line x1="306.4" y1="288.975" x2="307.6" y2="288.975" stroke="#444" stroke-width="0.5"/>
<line x1="306.4" y1="285.913" x2="307.6" y2="285.913" stroke="#444" stroke-width="0.5"/>
<line x1="306.4" y1="283.41" x2="307.6" y2="283.41" stroke="#444" stroke-width="0.5"/>
<line x1="306.4" y1="281.295" x2="307.6" y2="281.295" stroke="#444" stroke-width="0.5"/>
<line x1="306.4" y1="279.462" x2="307.6" y2="279.462" stroke="#444" stroke-width="0.5"/>
<line x1="306.4" y1="277.846" x2="307.6" y2="277.846" stroke="#444" stroke-width="0.5"/>
<line x1="306.4" y1="235.287" x2="307.6" y2="235.287" stroke="#444" stroke-width="0.5"/>
<text x="314.2" y="244.7" font-size="10.5" text-anchor="start" font-weight="normal" fill="#111">SPL</text>
<text x="322.2" y="317.8" font-size="8.8" text-anchor="middle" font-weight="normal" fill="#111">T</text>
<text x="349.2" y="317.8" font-size="8.8" text-anchor="middle" font-weight="normal" fill="#111">T+B</text>
<circle cx="320.4" cy="260.1" r="1.4" fill="#000" stroke="none" stroke-width="1"/>
<circle cx="324.1" cy="259.8" r="1.4" fill="#000" stroke="none" stroke-width="1"/>
<circle cx="323.1" cy="262.8" r="1.4" fill="#000" stroke="none" stroke-width="1"/>
<circle cx="346.2" cy="259.7" r="1.4" fill="#000" stroke="none" stroke-width="1"/>
<circle cx="346.9" cy="262.6" r="1.4" fill="#000" stroke="none" stroke-width="1"/>
<line x1="382.8" y1="233.5" x2="382.8" y2="308.7" stroke="#222" stroke-width="1.4"/>
<line x1="382.1" y1="308.1" x2="439.2" y2="308.1" stroke="#222" stroke-width="1.3"/>
<line x1="380.8" y1="244.8" x2="382.8" y2="244.8" stroke="#222" stroke-width="0.8"/>
<text x="380.2" y="248" font-size="9" text-anchor="end" font-weight="normal" fill="#111">10</text>
<line x1="380.8" y1="276.4" x2="382.8" y2="276.4" stroke="#222" stroke-width="0.8"/>
<text x="380.2" y="279.6" font-size="9" text-anchor="end" font-weight="normal" fill="#111">1</text>
<line x1="380.8" y1="308" x2="382.8" y2="308" stroke="#222" stroke-width="0.8"/>
<text x="380.2" y="311.2" font-size="9" text-anchor="end" font-weight="normal" fill="#111">0.1</text>
<line x1="381.6" y1="266.887" x2="382.8" y2="266.887" stroke="#444" stroke-width="0.5"/>
<line x1="381.6" y1="261.323" x2="382.8" y2="261.323" stroke="#444" stroke-width="0.5"/>
<line x1="381.6" y1="257.375" x2="382.8" y2="257.375" stroke="#444" stroke-width="0.5"/>
<line x1="381.6" y1="254.313" x2="382.8" y2="254.313" stroke="#444" stroke-width="0.5"/>
<line x1="381.6" y1="251.81" x2="382.8" y2="251.81" stroke="#444" stroke-width="0.5"/>
<line x1="381.6" y1="249.695" x2="382.8" y2="249.695" stroke="#444" stroke-width="0.5"/>
<line x1="381.6" y1="247.862" x2="382.8" y2="247.862" stroke="#444" stroke-width="0.5"/>
<line x1="381.6" y1="246.246" x2="382.8" y2="246.246" stroke="#444" stroke-width="0.5"/>
<line x1="381.6" y1="298.487" x2="382.8" y2="298.487" stroke="#444" stroke-width="0.5"/>
<line x1="381.6" y1="292.923" x2="382.8" y2="292.923" stroke="#444" stroke-width="0.5"/>
<line x1="381.6" y1="288.975" x2="382.8" y2="288.975" stroke="#444" stroke-width="0.5"/>
<line x1="381.6" y1="285.913" x2="382.8" y2="285.913" stroke="#444" stroke-width="0.5"/>
<line x1="381.6" y1="283.41" x2="382.8" y2="283.41" stroke="#444" stroke-width="0.5"/>
<line x1="381.6" y1="281.295" x2="382.8" y2="281.295" stroke="#444" stroke-width="0.5"/>
<line x1="381.6" y1="279.462" x2="382.8" y2="279.462" stroke="#444" stroke-width="0.5"/>
<line x1="381.6" y1="277.846" x2="382.8" y2="277.846" stroke="#444" stroke-width="0.5"/>
<line x1="381.6" y1="235.287" x2="382.8" y2="235.287" stroke="#444" stroke-width="0.5"/>
<text x="389" y="244.7" font-size="10.5" text-anchor="start" font-weight="normal" fill="#111">LN</text>
<text x="400.6" y="317.8" font-size="8.8" text-anchor="middle" font-weight="normal" fill="#111">T</text>
<text x="424.8" y="317.8" font-size="8.8" text-anchor="middle" font-weight="normal" fill="#111">T+B</text>
<circle cx="396.9" cy="265.8" r="1.4" fill="#000" stroke="none" stroke-width="1"/>
<circle cx="399.8" cy="264.9" r="1.4" fill="#000" stroke="none" stroke-width="1"/>
<circle cx="399.8" cy="268.2" r="1.4" fill="#000" stroke="none" stroke-width="1"/>
<circle cx="424.2" cy="259.7" r="1.4" fill="#000" stroke="none" stroke-width="1"/>
<circle cx="426.3" cy="261.8" r="1.4" fill="#000" stroke="none" stroke-width="1"/>
<line x1="456.6" y1="233.5" x2="456.6" y2="308.7" stroke="#222" stroke-width="1.4"/>
<line x1="455.9" y1="308.1" x2="512.4" y2="308.1" stroke="#222" stroke-width="1.3"/>
<line x1="454.6" y1="244.8" x2="456.6" y2="244.8" stroke="#222" stroke-width="0.8"/>
<text x="454.5" y="248" font-size="9" text-anchor="end" font-weight="normal" fill="#111">10</text>
<line x1="454.6" y1="276.4" x2="456.6" y2="276.4" stroke="#222" stroke-width="0.8"/>
<text x="454.5" y="279.6" font-size="9" text-anchor="end" font-weight="normal" fill="#111">1</text>
<line x1="454.6" y1="308" x2="456.6" y2="308" stroke="#222" stroke-width="0.8"/>
<text x="454.5" y="311.2" font-size="9" text-anchor="end" font-weight="normal" fill="#111">0.1</text>
<line x1="455.4" y1="266.887" x2="456.6" y2="266.887" stroke="#444" stroke-width="0.5"/>
<line x1="455.4" y1="261.323" x2="456.6" y2="261.323" stroke="#444" stroke-width="0.5"/>
<line x1="455.4" y1="257.375" x2="456.6" y2="257.375" stroke="#444" stroke-width="0.5"/>
<line x1="455.4" y1="254.313" x2="456.6" y2="254.313" stroke="#444" stroke-width="0.5"/>
<line x1="455.4" y1="251.81" x2="456.6" y2="251.81" stroke="#444" stroke-width="0.5"/>
<line x1="455.4" y1="249.695" x2="456.6" y2="249.695" stroke="#444" stroke-width="0.5"/>
<line x1="455.4" y1="247.862" x2="456.6" y2="247.862" stroke="#444" stroke-width="0.5"/>
<line x1="455.4" y1="246.246" x2="456.6" y2="246.246" stroke="#444" stroke-width="0.5"/>
<line x1="455.4" y1="298.487" x2="456.6" y2="298.487" stroke="#444" stroke-width="0.5"/>
<line x1="455.4" y1="292.923" x2="456.6" y2="292.923" stroke="#444" stroke-width="0.5"/>
<line x1="455.4" y1="288.975" x2="456.6" y2="288.975" stroke="#444" stroke-width="0.5"/>
<line x1="455.4" y1="285.913" x2="456.6" y2="285.913" stroke="#444" stroke-width="0.5"/>
<line x1="455.4" y1="283.41" x2="456.6" y2="283.41" stroke="#444" stroke-width="0.5"/>
<line x1="455.4" y1="281.295" x2="456.6" y2="281.295" stroke="#444" stroke-width="0.5"/>
<line x1="455.4" y1="279.462" x2="456.6" y2="279.462" stroke="#444" stroke-width="0.5"/>
<line x1="455.4" y1="277.846" x2="456.6" y2="277.846" stroke="#444" stroke-width="0.5"/>
<line x1="455.4" y1="235.287" x2="456.6" y2="235.287" stroke="#444" stroke-width="0.5"/>
<text x="463.6" y="245" font-size="10.5" text-anchor="start" font-weight="normal" fill="#111">mLN</text>
<text x="470.7" y="317.8" font-size="8.8" text-anchor="middle" font-weight="normal" fill="#111">T</text>
<text x="498.6" y="317.8" font-size="8.8" text-anchor="middle" font-weight="normal" fill="#111">T+B</text>
<circle cx="472.3" cy="253.4" r="1.4" fill="#000" stroke="none" stroke-width="1"/>
<circle cx="471.9" cy="257.6" r="1.4" fill="#000" stroke="none" stroke-width="1"/>
<circle cx="475" cy="256.1" r="1.4" fill="#000" stroke="none" stroke-width="1"/>
<circle cx="495.4" cy="260.5" r="1.4" fill="#000" stroke="none" stroke-width="1"/>
<circle cx="495.4" cy="263.8" r="1.4" fill="#000" stroke="none" stroke-width="1"/>
</svg>
</body></html>
